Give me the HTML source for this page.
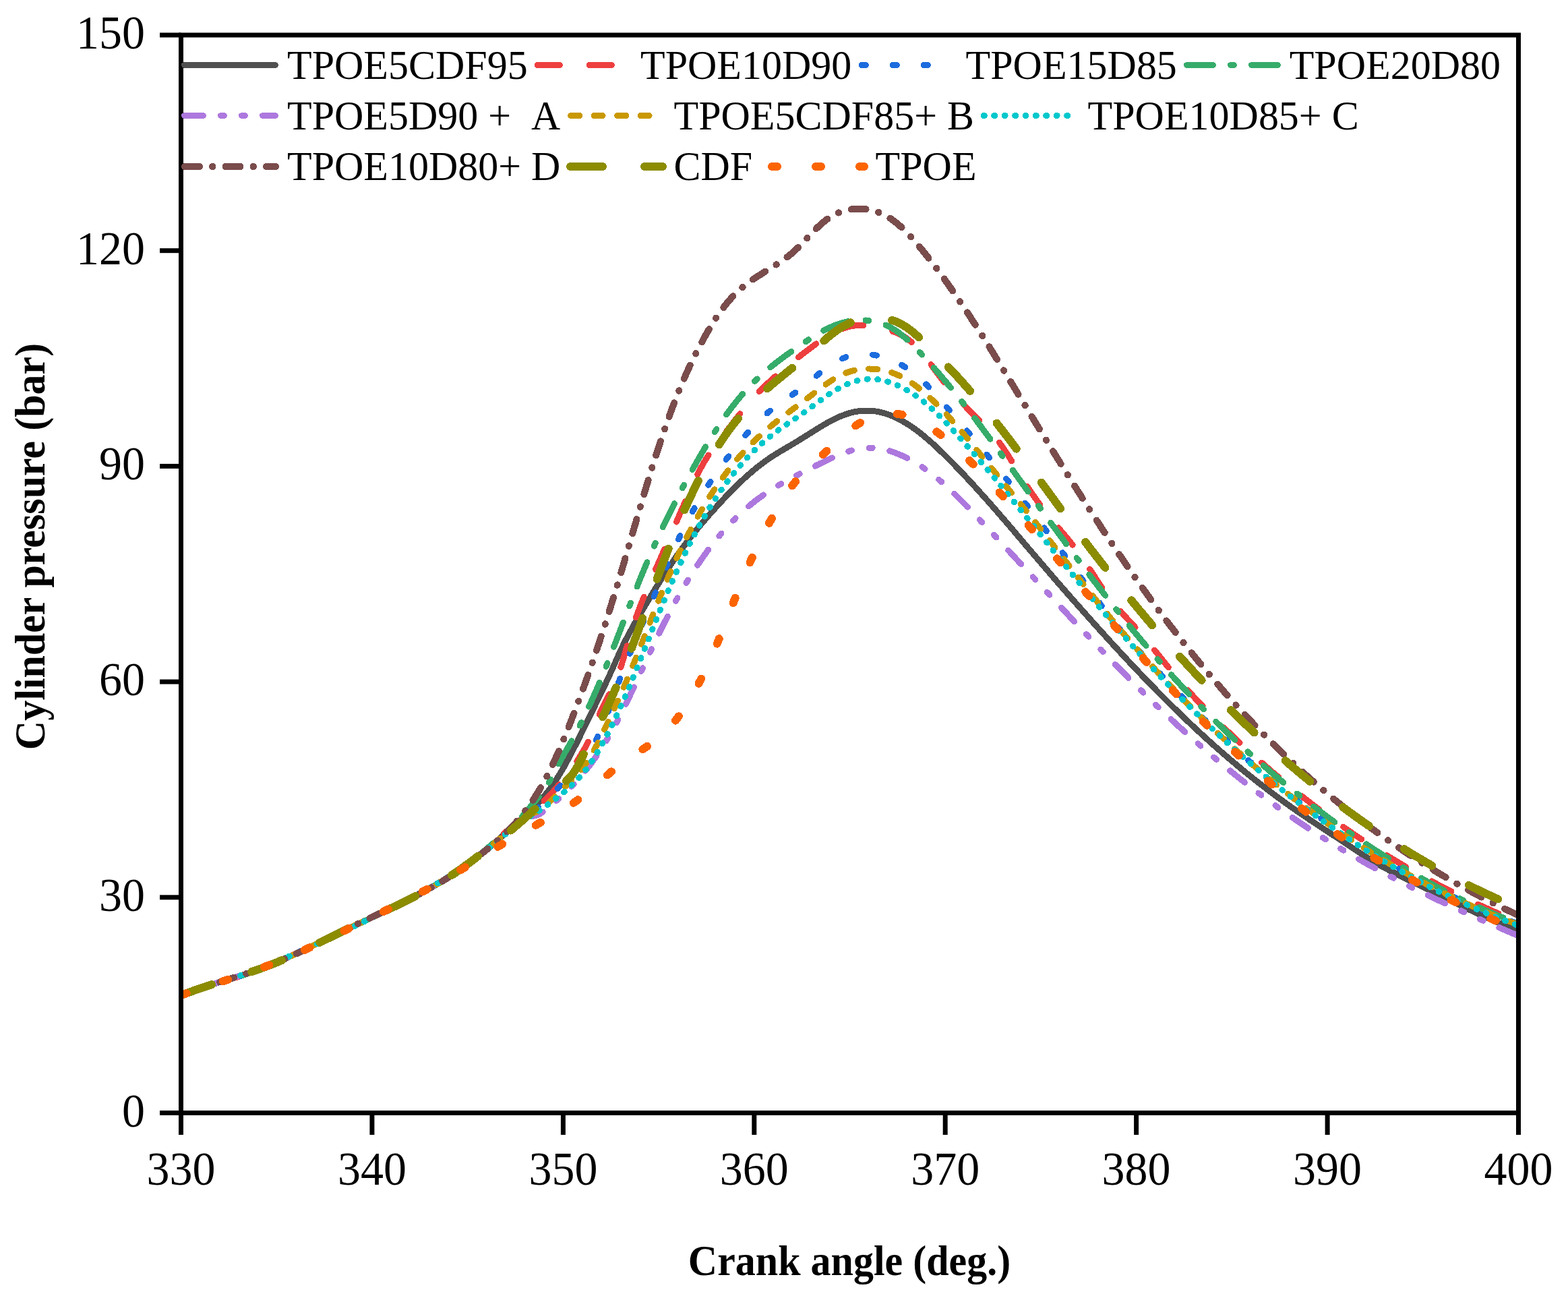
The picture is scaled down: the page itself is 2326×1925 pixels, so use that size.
<!DOCTYPE html>
<html><head><meta charset="utf-8"><title>Cylinder pressure vs crank angle</title>
<style>html,body{margin:0;padding:0;background:#fff;}body{width:2326px;height:1925px;overflow:hidden;}svg{display:block;}</style>
</head><body>
<svg width="2326" height="1925" viewBox="0 0 2326 1925">
<rect width="100%" height="100%" fill="#fff"/>
<defs><clipPath id="pc"><rect x="269" y="52" width="1983" height="1598"/></clipPath></defs>
<g clip-path="url(#pc)" fill="none" stroke-linecap="round" stroke-linejoin="round" shape-rendering="crispEdges">
<path d="M269.0 1476.2C270.5 1475.5 275.1 1473.7 278.2 1472.5C281.3 1471.3 284.5 1470.1 287.6 1469.0C290.8 1467.9 293.9 1466.8 297.1 1465.7C300.3 1464.6 303.4 1463.6 306.6 1462.5C309.8 1461.5 313.0 1460.5 316.2 1459.5C319.4 1458.5 322.6 1457.5 325.7 1456.5C328.9 1455.5 332.1 1454.5 335.3 1453.5C338.5 1452.5 341.7 1451.6 344.9 1450.6C348.1 1449.6 351.3 1448.6 354.5 1447.6C357.7 1446.6 360.8 1445.5 364.0 1444.5C367.2 1443.5 370.4 1442.4 373.5 1441.3C376.7 1440.3 379.8 1439.2 383.0 1438.0C386.1 1436.9 389.3 1435.8 392.4 1434.6C395.5 1433.4 398.6 1432.1 401.7 1430.9C404.8 1429.6 407.9 1428.4 411.0 1427.1C414.1 1425.8 417.1 1424.4 420.2 1423.1C423.2 1421.7 426.3 1420.3 429.3 1419.0C432.4 1417.6 435.4 1416.2 438.4 1414.7C441.5 1413.3 444.5 1411.9 447.5 1410.4C450.5 1409.0 453.5 1407.6 456.5 1406.1C459.5 1404.6 462.5 1403.2 465.5 1401.7C468.5 1400.2 471.5 1398.8 474.5 1397.3C477.5 1395.8 480.6 1394.4 483.6 1392.9C486.6 1391.5 489.6 1390.0 492.6 1388.6C495.6 1387.1 498.6 1385.7 501.6 1384.2C504.7 1382.8 507.7 1381.4 510.7 1380.0C513.7 1378.5 516.7 1377.1 519.8 1375.7C522.8 1374.3 525.8 1372.9 528.9 1371.4C531.9 1370.0 534.9 1368.6 537.9 1367.2C541.0 1365.8 544.0 1364.3 547.0 1362.9C550.0 1361.5 553.1 1360.1 556.1 1358.6C559.1 1357.2 562.1 1355.8 565.1 1354.3C568.1 1352.9 571.2 1351.4 574.2 1350.0C577.2 1348.5 580.2 1347.1 583.2 1345.6C586.2 1344.1 589.2 1342.7 592.2 1341.2C595.2 1339.7 598.1 1338.2 601.1 1336.7C604.1 1335.1 607.1 1333.6 610.0 1332.1C613.0 1330.5 616.0 1329.0 618.9 1327.4C621.9 1325.8 624.8 1324.2 627.7 1322.6C630.7 1321.0 633.6 1319.4 636.5 1317.8C639.4 1316.1 642.3 1314.5 645.2 1312.8C648.1 1311.1 651.0 1309.4 653.8 1307.7C656.7 1306.0 659.6 1304.3 662.4 1302.5C665.2 1300.7 668.1 1298.9 670.9 1297.1C673.7 1295.3 676.5 1293.5 679.3 1291.6C682.0 1289.8 684.8 1287.9 687.5 1286.0C690.3 1284.1 693.0 1282.1 695.7 1280.2C698.4 1278.2 701.1 1276.2 703.8 1274.2C706.4 1272.2 709.1 1270.1 711.7 1268.1C714.3 1266.0 716.9 1263.9 719.5 1261.8C722.1 1259.7 724.7 1257.6 727.3 1255.4C729.8 1253.3 732.4 1251.1 734.9 1248.9C737.4 1246.7 739.9 1244.6 742.5 1242.3C745.0 1240.1 747.5 1237.9 750.0 1235.7C752.5 1233.5 754.9 1231.2 757.4 1229.0C759.9 1226.7 762.4 1224.5 764.8 1222.2C767.3 1220.0 769.8 1217.7 772.2 1215.5C774.7 1213.2 777.1 1210.9 779.6 1208.7C782.0 1206.4 784.5 1204.1 786.9 1201.8C789.3 1199.5 791.8 1197.2 794.1 1194.8C796.5 1192.5 798.8 1190.1 801.1 1187.6C803.3 1185.2 805.5 1182.6 807.7 1180.1C809.8 1177.5 811.9 1174.9 813.9 1172.2C815.9 1169.6 817.9 1166.9 819.8 1164.1C821.7 1161.4 823.6 1158.6 825.4 1155.8C827.2 1153.0 829.0 1150.2 830.7 1147.3C832.5 1144.5 834.2 1141.6 835.8 1138.7C837.5 1135.8 839.1 1132.9 840.7 1129.9C842.3 1127.0 843.9 1124.1 845.5 1121.1C847.0 1118.2 848.6 1115.2 850.1 1112.2C851.6 1109.2 853.1 1106.3 854.7 1103.3C856.2 1100.3 857.6 1097.3 859.1 1094.3C860.6 1091.3 862.1 1088.3 863.5 1085.3C865.0 1082.3 866.5 1079.3 867.9 1076.3C869.4 1073.3 870.8 1070.3 872.3 1067.3C873.8 1064.3 875.2 1061.3 876.7 1058.3C878.2 1055.3 879.6 1052.3 881.1 1049.3C882.6 1046.3 884.1 1043.3 885.5 1040.3C887.0 1037.3 888.5 1034.3 890.0 1031.3C891.4 1028.3 892.9 1025.3 894.3 1022.2C895.8 1019.2 897.2 1016.2 898.7 1013.2C900.1 1010.2 901.5 1007.2 902.9 1004.1C904.3 1001.1 905.7 998.0 907.1 995.0C908.4 991.9 909.8 988.9 911.1 985.8C912.5 982.8 913.8 979.7 915.2 976.7C916.6 973.6 917.9 970.6 919.3 967.5C920.7 964.5 922.1 961.5 923.6 958.4C925.0 955.4 926.5 952.4 928.0 949.5C929.6 946.5 931.1 943.5 932.7 940.6C934.3 937.6 935.9 934.7 937.5 931.8C939.1 928.8 940.7 925.9 942.4 923.0C944.1 920.1 945.7 917.2 947.4 914.4C949.1 911.5 950.8 908.6 952.5 905.7C954.2 902.8 955.9 900.0 957.6 897.1C959.4 894.2 961.1 891.4 962.8 888.5C964.5 885.7 966.3 882.8 968.0 879.9C969.7 877.1 971.5 874.2 973.2 871.4C975.0 868.6 976.8 865.7 978.5 862.9C980.3 860.1 982.1 857.2 983.9 854.4C985.7 851.6 987.5 848.8 989.4 846.0C991.2 843.2 993.0 840.4 994.9 837.6C996.8 834.9 998.6 832.1 1000.5 829.3C1002.4 826.6 1004.3 823.8 1006.3 821.1C1008.2 818.4 1010.1 815.7 1012.1 813.0C1014.1 810.3 1016.1 807.6 1018.1 804.9C1020.1 802.3 1022.1 799.6 1024.2 797.0C1026.2 794.3 1028.3 791.7 1030.4 789.1C1032.5 786.5 1034.6 783.9 1036.8 781.4C1038.9 778.8 1041.1 776.3 1043.3 773.7C1045.4 771.2 1047.6 768.7 1049.8 766.2C1052.0 763.6 1054.3 761.1 1056.5 758.6C1058.7 756.2 1060.9 753.7 1063.2 751.2C1065.4 748.7 1067.7 746.2 1070.0 743.8C1072.2 741.3 1074.5 738.9 1076.8 736.5C1079.1 734.0 1081.4 731.6 1083.8 729.2C1086.1 726.9 1088.4 724.5 1090.8 722.1C1093.2 719.8 1095.6 717.5 1098.0 715.2C1100.4 712.9 1102.9 710.6 1105.4 708.3C1107.8 706.1 1110.3 703.9 1112.9 701.7C1115.4 699.5 1118.0 697.3 1120.5 695.2C1123.1 693.1 1125.8 691.1 1128.4 689.0C1131.1 687.0 1133.8 685.0 1136.5 683.1C1139.2 681.1 1142.0 679.2 1144.7 677.4C1147.5 675.6 1150.4 673.8 1153.2 672.0C1156.1 670.3 1158.9 668.6 1161.8 666.9C1164.7 665.2 1167.6 663.5 1170.5 661.8C1173.3 660.1 1176.2 658.4 1179.1 656.7C1181.9 655.0 1184.8 653.2 1187.6 651.4C1190.5 649.7 1193.3 647.9 1196.1 646.1C1199.0 644.3 1201.8 642.5 1204.6 640.8C1207.4 639.0 1210.3 637.2 1213.1 635.5C1216.0 633.7 1218.8 632.0 1221.7 630.3C1224.6 628.6 1227.5 626.9 1230.4 625.4C1233.4 623.8 1236.3 622.2 1239.3 620.8C1242.4 619.3 1245.4 617.9 1248.5 616.7C1251.6 615.5 1254.8 614.3 1257.9 613.3C1261.1 612.4 1264.4 611.5 1267.7 610.8C1270.9 610.2 1274.2 609.7 1277.6 609.4C1280.9 609.1 1284.2 609.0 1287.6 609.1C1290.9 609.1 1294.3 609.4 1297.6 609.8C1300.9 610.2 1304.2 610.9 1307.4 611.7C1310.7 612.5 1313.9 613.4 1317.0 614.5C1320.2 615.6 1323.3 616.9 1326.3 618.2C1329.4 619.6 1332.4 621.0 1335.4 622.6C1338.3 624.2 1341.2 625.8 1344.1 627.6C1346.9 629.3 1349.7 631.1 1352.5 633.0C1355.2 634.9 1358.0 636.9 1360.6 638.9C1363.3 640.9 1365.9 642.9 1368.5 645.0C1371.1 647.1 1373.7 649.3 1376.2 651.5C1378.8 653.6 1381.3 655.9 1383.7 658.1C1386.2 660.4 1388.6 662.6 1391.1 664.9C1393.5 667.2 1395.9 669.6 1398.3 671.9C1400.7 674.2 1403.0 676.6 1405.4 678.9C1407.8 681.3 1410.1 683.7 1412.5 686.1C1414.8 688.4 1417.2 690.8 1419.5 693.2C1421.8 695.6 1424.1 698.1 1426.4 700.5C1428.7 702.9 1431.0 705.3 1433.3 707.8C1435.6 710.2 1437.9 712.6 1440.1 715.1C1442.4 717.6 1444.7 720.0 1446.9 722.5C1449.2 725.0 1451.4 727.4 1453.6 729.9C1455.9 732.4 1458.1 734.9 1460.3 737.4C1462.6 739.9 1464.8 742.4 1467.0 744.9C1469.2 747.4 1471.4 749.9 1473.6 752.4C1475.8 754.9 1478.0 757.4 1480.2 760.0C1482.4 762.5 1484.6 765.0 1486.8 767.6C1488.9 770.1 1491.1 772.6 1493.3 775.1C1495.5 777.7 1497.7 780.2 1499.8 782.8C1502.0 785.3 1504.2 787.8 1506.3 790.4C1508.5 792.9 1510.7 795.5 1512.8 798.0C1515.0 800.6 1517.2 803.1 1519.3 805.7C1521.5 808.2 1523.7 810.8 1525.8 813.3C1528.0 815.8 1530.2 818.4 1532.3 820.9C1534.5 823.5 1536.7 826.0 1538.8 828.6C1541.0 831.1 1543.2 833.6 1545.3 836.2C1547.5 838.7 1549.7 841.3 1551.9 843.8C1554.0 846.3 1556.2 848.9 1558.4 851.4C1560.6 853.9 1562.8 856.5 1565.0 859.0C1567.1 861.5 1569.3 864.0 1571.5 866.6C1573.7 869.1 1575.9 871.6 1578.1 874.1C1580.3 876.6 1582.5 879.2 1584.7 881.7C1586.9 884.2 1589.1 886.7 1591.3 889.2C1593.5 891.7 1595.7 894.2 1598.0 896.7C1600.2 899.2 1602.4 901.7 1604.6 904.2C1606.8 906.7 1609.0 909.2 1611.3 911.7C1613.5 914.2 1615.7 916.7 1617.9 919.2C1620.2 921.7 1622.4 924.2 1624.6 926.7C1626.9 929.2 1629.1 931.6 1631.3 934.1C1633.6 936.6 1635.8 939.1 1638.1 941.5C1640.3 944.0 1642.6 946.5 1644.8 949.0C1647.1 951.4 1649.3 953.9 1651.6 956.4C1653.9 958.8 1656.1 961.3 1658.4 963.7C1660.7 966.2 1662.9 968.6 1665.2 971.1C1667.5 973.5 1669.8 976.0 1672.0 978.4C1674.3 980.9 1676.6 983.3 1678.9 985.7C1681.2 988.2 1683.5 990.6 1685.8 993.0C1688.1 995.4 1690.4 997.9 1692.7 1000.3C1695.0 1002.7 1697.3 1005.1 1699.6 1007.5C1701.9 1009.9 1704.3 1012.3 1706.6 1014.7C1708.9 1017.1 1711.3 1019.5 1713.6 1021.9C1715.9 1024.3 1718.3 1026.7 1720.6 1029.1C1723.0 1031.4 1725.3 1033.8 1727.7 1036.2C1730.1 1038.5 1732.4 1040.9 1734.8 1043.2C1737.2 1045.6 1739.5 1048.0 1741.9 1050.3C1744.3 1052.6 1746.7 1055.0 1749.1 1057.3C1751.5 1059.6 1753.9 1061.9 1756.3 1064.3C1758.7 1066.6 1761.1 1068.9 1763.6 1071.2C1766.0 1073.5 1768.4 1075.8 1770.9 1078.1C1773.3 1080.4 1775.7 1082.6 1778.2 1084.9C1780.6 1087.2 1783.1 1089.4 1785.6 1091.7C1788.0 1094.0 1790.5 1096.2 1793.0 1098.4C1795.5 1100.7 1797.9 1102.9 1800.4 1105.1C1802.9 1107.4 1805.4 1109.6 1808.0 1111.8C1810.5 1114.0 1813.0 1116.2 1815.5 1118.4C1818.0 1120.6 1820.6 1122.7 1823.1 1124.9C1825.7 1127.1 1828.2 1129.2 1830.8 1131.4C1833.3 1133.5 1835.9 1135.7 1838.5 1137.8C1841.0 1139.9 1843.6 1142.1 1846.2 1144.2C1848.8 1146.3 1851.4 1148.4 1854.0 1150.5C1856.6 1152.6 1859.2 1154.7 1861.8 1156.7C1864.5 1158.8 1867.1 1160.9 1869.7 1162.9C1872.4 1165.0 1875.0 1167.0 1877.7 1169.0C1880.3 1171.1 1883.0 1173.1 1885.6 1175.1C1888.3 1177.1 1891.0 1179.1 1893.7 1181.1C1896.4 1183.1 1899.1 1185.1 1901.8 1187.0C1904.5 1189.0 1907.2 1191.0 1909.9 1192.9C1912.6 1194.9 1915.3 1196.8 1918.1 1198.7C1920.8 1200.6 1923.6 1202.5 1926.3 1204.4C1929.1 1206.3 1931.8 1208.2 1934.6 1210.1C1937.3 1212.0 1940.1 1213.8 1942.9 1215.7C1945.7 1217.5 1948.5 1219.4 1951.2 1221.2C1954.0 1223.1 1956.8 1224.9 1959.6 1226.8C1962.4 1228.6 1965.2 1230.4 1968.0 1232.2C1970.8 1234.1 1973.6 1235.9 1976.4 1237.7C1979.2 1239.6 1982.0 1241.4 1984.8 1243.2C1987.6 1245.1 1990.4 1246.9 1993.2 1248.7C1995.9 1250.6 1998.7 1252.4 2001.5 1254.3C2004.3 1256.2 2007.1 1258.0 2009.8 1259.9C2012.6 1261.7 2015.4 1263.6 2018.2 1265.4C2021.0 1267.3 2023.8 1269.1 2026.6 1270.9C2029.4 1272.7 2032.2 1274.5 2035.1 1276.2C2037.9 1278.0 2040.8 1279.7 2043.7 1281.3C2046.6 1283.0 2049.5 1284.6 2052.5 1286.2C2055.4 1287.8 2058.4 1289.4 2061.3 1290.9C2064.3 1292.4 2067.3 1293.9 2070.3 1295.4C2073.2 1296.9 2076.2 1298.4 2079.2 1299.9C2082.2 1301.4 2085.2 1302.9 2088.2 1304.4C2091.2 1305.8 2094.2 1307.3 2097.2 1308.8C2100.2 1310.3 2103.2 1311.8 2106.2 1313.3C2109.2 1314.8 2112.2 1316.3 2115.2 1317.7C2118.2 1319.2 2121.1 1320.7 2124.1 1322.2C2127.1 1323.7 2130.1 1325.2 2133.1 1326.6C2136.1 1328.1 2139.1 1329.6 2142.1 1331.1C2145.1 1332.5 2148.1 1334.0 2151.1 1335.5C2154.1 1336.9 2157.1 1338.4 2160.2 1339.8C2163.2 1341.3 2166.2 1342.7 2169.2 1344.2C2172.2 1345.6 2175.2 1347.0 2178.3 1348.4C2181.3 1349.9 2184.3 1351.3 2187.4 1352.7C2190.4 1354.1 2193.4 1355.5 2196.5 1356.8C2199.5 1358.2 2202.6 1359.6 2205.6 1360.9C2208.7 1362.3 2211.7 1363.6 2214.8 1365.0C2217.9 1366.3 2221.0 1367.6 2224.0 1368.9C2227.1 1370.2 2230.2 1371.5 2233.3 1372.8C2236.4 1374.0 2239.5 1375.3 2242.6 1376.5C2245.7 1377.7 2250.4 1379.5 2251.9 1380.2" stroke="#505050" stroke-width="9"/>
<path d="M269.0 1476.5C270.5 1475.8 275.0 1473.5 278.0 1472.2C281.1 1470.8 284.2 1469.6 287.3 1468.4C290.4 1467.2 293.6 1466.1 296.8 1465.1C300.0 1464.0 303.1 1463.1 306.4 1462.1C309.6 1461.2 312.8 1460.3 316.0 1459.4C319.2 1458.5 322.4 1457.6 325.7 1456.7C328.9 1455.8 332.1 1455.0 335.3 1454.0C338.5 1453.1 341.7 1452.2 344.9 1451.2C348.1 1450.2 351.3 1449.2 354.5 1448.2C357.7 1447.2 360.8 1446.1 364.0 1445.0C367.1 1443.9 370.3 1442.8 373.4 1441.6C376.6 1440.5 379.7 1439.3 382.8 1438.1C385.9 1436.9 389.0 1435.6 392.1 1434.4C395.2 1433.2 398.3 1431.9 401.4 1430.6C404.5 1429.3 407.6 1428.0 410.7 1426.7C413.7 1425.4 416.8 1424.1 419.9 1422.7C422.9 1421.4 426.0 1420.0 429.0 1418.7C432.1 1417.3 435.1 1415.9 438.2 1414.6C441.2 1413.2 444.2 1411.8 447.3 1410.4C450.3 1409.0 453.4 1407.6 456.4 1406.2C459.4 1404.8 462.4 1403.4 465.5 1402.0C468.5 1400.5 471.5 1399.1 474.5 1397.7C477.6 1396.3 480.6 1394.8 483.6 1393.4C486.6 1391.9 489.6 1390.5 492.6 1389.1C495.6 1387.6 498.7 1386.2 501.7 1384.7C504.7 1383.3 507.7 1381.8 510.7 1380.3C513.7 1378.9 516.7 1377.4 519.7 1376.0C522.7 1374.5 525.7 1373.0 528.7 1371.6C531.7 1370.1 534.7 1368.6 537.7 1367.2C540.7 1365.7 543.7 1364.2 546.7 1362.8C549.7 1361.3 552.7 1359.8 555.7 1358.4C558.7 1356.9 561.7 1355.4 564.7 1354.0C567.7 1352.5 570.8 1351.0 573.8 1349.6C576.8 1348.1 579.8 1346.7 582.8 1345.2C585.8 1343.7 588.8 1342.3 591.8 1340.8C594.8 1339.3 597.8 1337.9 600.8 1336.4C603.8 1334.9 606.8 1333.4 609.8 1331.9C612.7 1330.4 615.7 1328.9 618.7 1327.4C621.7 1325.9 624.6 1324.3 627.6 1322.8C630.6 1321.2 633.5 1319.7 636.5 1318.1C639.4 1316.5 642.3 1314.9 645.2 1313.2C648.1 1311.6 651.1 1310.0 653.9 1308.3C656.8 1306.6 659.7 1304.9 662.6 1303.1C665.4 1301.4 668.2 1299.6 671.1 1297.8C673.9 1296.0 676.7 1294.2 679.4 1292.3C682.2 1290.5 685.0 1288.6 687.7 1286.6C690.4 1284.7 693.1 1282.7 695.8 1280.7C698.5 1278.7 701.1 1276.7 703.7 1274.6C706.3 1272.5 708.9 1270.4 711.5 1268.2C714.0 1266.1 716.5 1263.9 719.1 1261.7C721.6 1259.5 724.1 1257.3 726.6 1255.1C729.1 1252.9 731.6 1250.6 734.1 1248.4C736.5 1246.2 739.0 1243.9 741.5 1241.7C744.0 1239.5 746.5 1237.2 749.0 1235.0C751.5 1232.8 754.0 1230.6 756.5 1228.4C759.0 1226.2 761.6 1224.0 764.1 1221.9C766.7 1219.8 769.3 1217.6 771.9 1215.6C774.5 1213.5 777.2 1211.5 779.9 1209.5C782.6 1207.5 785.3 1205.6 788.0 1203.6C790.7 1201.6 793.4 1199.6 796.0 1197.5C798.6 1195.5 801.2 1193.3 803.7 1191.1C806.2 1188.9 808.6 1186.6 811.0 1184.2C813.3 1181.9 815.6 1179.4 817.9 1177.0C820.1 1174.5 822.3 1172.0 824.5 1169.5C826.7 1166.9 828.8 1164.4 831.0 1161.8C833.1 1159.2 835.2 1156.6 837.3 1154.0C839.3 1151.4 841.4 1148.7 843.4 1146.1C845.4 1143.4 847.4 1140.7 849.4 1138.0C851.3 1135.3 853.2 1132.6 855.1 1129.8C857.0 1127.0 858.8 1124.2 860.6 1121.4C862.3 1118.6 864.1 1115.7 865.7 1112.8C867.4 1109.9 869.0 1107.0 870.5 1104.0C872.1 1101.0 873.5 1098.0 874.9 1095.0C876.3 1091.9 877.6 1088.9 878.9 1085.8C880.1 1082.7 881.2 1079.5 882.4 1076.4C883.6 1073.3 884.7 1070.1 886.0 1067.0C887.2 1063.9 888.5 1060.9 889.9 1057.8C891.3 1054.8 892.7 1051.7 894.2 1048.7C895.6 1045.7 897.1 1042.7 898.6 1039.7C900.1 1036.8 901.6 1033.8 903.1 1030.8C904.6 1027.8 906.1 1024.8 907.6 1021.8C909.0 1018.8 910.5 1015.8 911.8 1012.7C913.2 1009.7 914.5 1006.6 915.8 1003.5C917.0 1000.4 918.2 997.3 919.3 994.1C920.4 991.0 921.4 987.8 922.4 984.6C923.4 981.4 924.3 978.2 925.3 975.0C926.2 971.8 927.1 968.6 928.0 965.4C928.9 962.1 929.8 958.9 930.7 955.7C931.6 952.5 932.5 949.3 933.5 946.1C934.4 942.9 935.4 939.7 936.4 936.5C937.4 933.3 938.5 930.1 939.5 927.0C940.6 923.8 941.7 920.6 942.8 917.5C943.9 914.3 945.1 911.2 946.2 908.1C947.4 904.9 948.6 901.8 949.8 898.7C951.0 895.6 952.2 892.5 953.5 889.4C954.7 886.3 956.0 883.2 957.3 880.1C958.5 877.0 959.8 873.9 961.1 870.8C962.4 867.8 963.7 864.7 965.0 861.6C966.4 858.5 967.7 855.5 969.0 852.4C970.4 849.3 971.7 846.3 973.1 843.2C974.4 840.2 975.8 837.1 977.1 834.1C978.5 831.0 979.8 828.0 981.2 824.9C982.5 821.8 983.9 818.8 985.2 815.7C986.6 812.7 987.9 809.6 989.3 806.6C990.6 803.5 992.0 800.4 993.3 797.4C994.6 794.3 996.0 791.3 997.3 788.2C998.6 785.1 1000.0 782.1 1001.3 779.0C1002.6 775.9 1003.9 772.9 1005.3 769.8C1006.6 766.7 1007.9 763.6 1009.2 760.6C1010.5 757.5 1011.9 754.4 1013.2 751.4C1014.5 748.3 1015.9 745.2 1017.2 742.2C1018.5 739.1 1019.8 736.0 1021.2 733.0C1022.5 729.9 1023.9 726.9 1025.2 723.8C1026.6 720.8 1028.0 717.7 1029.4 714.7C1030.8 711.7 1032.2 708.7 1033.7 705.7C1035.2 702.7 1036.7 699.7 1038.3 696.7C1039.8 693.8 1041.4 690.8 1043.1 687.9C1044.7 685.0 1046.5 682.2 1048.2 679.3C1050.0 676.5 1051.9 673.7 1053.7 671.0C1055.6 668.2 1057.6 665.5 1059.6 662.8C1061.5 660.1 1063.6 657.4 1065.6 654.8C1067.6 652.1 1069.7 649.5 1071.8 646.9C1073.8 644.3 1075.9 641.6 1078.0 639.0C1080.1 636.4 1082.1 633.8 1084.2 631.2C1086.3 628.5 1088.3 625.9 1090.3 623.2C1092.4 620.6 1094.4 617.9 1096.4 615.3C1098.4 612.6 1100.5 610.0 1102.6 607.3C1104.7 604.7 1106.8 602.2 1109.0 599.6C1111.1 597.1 1113.3 594.6 1115.6 592.1C1117.8 589.6 1120.1 587.2 1122.4 584.7C1124.7 582.3 1127.0 579.9 1129.4 577.6C1131.8 575.2 1134.2 572.9 1136.6 570.6C1139.0 568.3 1141.4 566.0 1143.9 563.8C1146.4 561.5 1148.9 559.3 1151.4 557.1C1153.9 554.9 1156.4 552.7 1159.0 550.5C1161.5 548.3 1164.1 546.2 1166.6 544.1C1169.2 542.0 1171.8 539.8 1174.4 537.7C1177.0 535.7 1179.6 533.6 1182.3 531.5C1184.9 529.4 1187.5 527.4 1190.2 525.3C1192.8 523.3 1195.5 521.3 1198.1 519.2C1200.8 517.2 1203.4 515.2 1206.1 513.2C1208.8 511.2 1211.5 509.2 1214.2 507.3C1216.9 505.3 1219.7 503.4 1222.5 501.6C1225.3 499.8 1228.1 498.0 1231.0 496.3C1233.9 494.6 1236.8 493.0 1239.8 491.6C1242.8 490.1 1245.9 488.8 1249.0 487.6C1252.2 486.5 1255.4 485.5 1258.6 484.7C1261.8 483.9 1265.2 483.3 1268.5 482.9C1271.8 482.6 1275.1 482.4 1278.5 482.4C1281.8 482.4 1285.2 482.6 1288.5 482.9C1291.8 483.3 1295.1 483.8 1298.4 484.3C1301.7 484.9 1305.0 485.7 1308.2 486.5C1311.4 487.3 1314.7 488.2 1317.8 489.2C1321.0 490.2 1324.2 491.3 1327.3 492.5C1330.4 493.7 1333.5 495.1 1336.4 496.6C1339.4 498.2 1342.3 499.9 1345.0 501.8C1347.7 503.7 1350.4 505.8 1352.9 508.0C1355.4 510.2 1357.8 512.5 1360.1 514.9C1362.5 517.3 1364.7 519.8 1366.8 522.4C1369.0 524.9 1371.1 527.5 1373.2 530.2C1375.2 532.8 1377.2 535.5 1379.2 538.1C1381.2 540.8 1383.1 543.5 1385.1 546.2C1387.1 548.9 1389.1 551.6 1391.0 554.3C1393.0 557.0 1395.1 559.7 1397.1 562.3C1399.2 564.9 1401.2 567.6 1403.3 570.2C1405.4 572.8 1407.6 575.3 1409.7 577.9C1411.9 580.4 1414.1 583.0 1416.3 585.5C1418.5 588.0 1420.7 590.5 1422.9 593.0C1425.2 595.4 1427.5 597.9 1429.8 600.3C1432.1 602.7 1434.4 605.1 1436.7 607.5C1439.1 609.9 1441.4 612.3 1443.8 614.6C1446.1 617.0 1448.5 619.3 1450.9 621.7C1453.3 624.1 1455.6 626.4 1458.0 628.8C1460.3 631.2 1462.7 633.6 1464.9 636.0C1467.2 638.4 1469.5 640.9 1471.7 643.4C1473.9 645.9 1476.1 648.4 1478.2 651.0C1480.3 653.6 1482.4 656.3 1484.4 658.9C1486.3 661.6 1488.2 664.4 1490.1 667.1C1492.0 669.9 1493.8 672.7 1495.6 675.5C1497.4 678.4 1499.1 681.2 1500.9 684.1C1502.6 686.9 1504.3 689.8 1506.1 692.6C1507.8 695.5 1509.5 698.4 1511.2 701.2C1512.9 704.1 1514.7 707.0 1516.4 709.8C1518.2 712.7 1519.9 715.5 1521.8 718.3C1523.6 721.1 1525.4 723.9 1527.3 726.7C1529.2 729.4 1531.1 732.2 1533.0 734.9C1534.9 737.6 1536.8 740.4 1538.8 743.1C1540.8 745.8 1542.8 748.4 1544.8 751.1C1546.8 753.8 1548.8 756.4 1550.9 759.0C1553.0 761.7 1555.0 764.3 1557.1 766.9C1559.2 769.5 1561.3 772.1 1563.5 774.7C1565.6 777.3 1567.7 779.8 1569.9 782.4C1572.0 785.0 1574.2 787.5 1576.3 790.1C1578.4 792.6 1580.6 795.2 1582.7 797.8C1584.9 800.3 1587.0 802.9 1589.1 805.5C1591.2 808.1 1593.2 810.7 1595.3 813.4C1597.3 816.0 1599.3 818.7 1601.3 821.4C1603.3 824.1 1605.2 826.8 1607.1 829.6C1609.0 832.3 1610.8 835.1 1612.7 837.9C1614.5 840.7 1616.4 843.5 1618.2 846.3C1620.0 849.1 1621.8 851.9 1623.6 854.7C1625.4 857.5 1627.2 860.3 1629.1 863.1C1630.9 865.9 1632.8 868.7 1634.6 871.5C1636.5 874.2 1638.4 877.0 1640.4 879.7C1642.3 882.4 1644.3 885.1 1646.4 887.7C1648.4 890.3 1650.5 892.9 1652.7 895.5C1654.8 898.1 1657.0 900.6 1659.2 903.1C1661.4 905.7 1663.6 908.1 1665.9 910.6C1668.1 913.1 1670.4 915.6 1672.6 918.0C1674.9 920.5 1677.2 922.9 1679.4 925.4C1681.7 927.9 1683.9 930.3 1686.2 932.8C1688.4 935.3 1690.6 937.8 1692.8 940.3C1695.0 942.8 1697.2 945.3 1699.4 947.9C1701.5 950.4 1703.7 953.0 1705.8 955.6C1707.9 958.2 1710.0 960.8 1712.1 963.4C1714.2 966.0 1716.3 968.6 1718.4 971.2C1720.5 973.8 1722.5 976.4 1724.6 979.0C1726.7 981.6 1728.8 984.2 1730.9 986.8C1733.0 989.4 1735.1 992.0 1737.2 994.6C1739.3 997.2 1741.5 999.8 1743.6 1002.4C1745.7 1004.9 1747.9 1007.5 1750.1 1010.0C1752.3 1012.5 1754.5 1015.1 1756.7 1017.6C1758.9 1020.1 1761.1 1022.6 1763.3 1025.1C1765.6 1027.5 1767.8 1030.0 1770.1 1032.5C1772.3 1034.9 1774.6 1037.4 1776.9 1039.8C1779.2 1042.3 1781.5 1044.7 1783.8 1047.1C1786.1 1049.5 1788.4 1051.9 1790.7 1054.3C1793.0 1056.7 1795.4 1059.1 1797.7 1061.5C1800.1 1063.9 1802.4 1066.2 1804.8 1068.6C1807.2 1070.9 1809.6 1073.3 1812.0 1075.6C1814.3 1078.0 1816.7 1080.3 1819.1 1082.6C1821.5 1084.9 1824.0 1087.2 1826.4 1089.5C1828.8 1091.8 1831.2 1094.1 1833.7 1096.4C1836.1 1098.7 1838.5 1101.0 1841.0 1103.3C1843.4 1105.6 1845.9 1107.8 1848.4 1110.1C1850.8 1112.3 1853.3 1114.6 1855.8 1116.8C1858.2 1119.1 1860.7 1121.3 1863.2 1123.6C1865.7 1125.8 1868.2 1128.0 1870.7 1130.2C1873.2 1132.4 1875.7 1134.6 1878.2 1136.8C1880.7 1139.0 1883.2 1141.2 1885.8 1143.4C1888.3 1145.6 1890.9 1147.8 1893.4 1149.9C1895.9 1152.1 1898.5 1154.2 1901.1 1156.4C1903.6 1158.5 1906.2 1160.7 1908.8 1162.8C1911.4 1164.9 1914.0 1167.0 1916.5 1169.1C1919.1 1171.2 1921.7 1173.3 1924.4 1175.4C1927.0 1177.5 1929.6 1179.6 1932.2 1181.6C1934.8 1183.7 1937.5 1185.7 1940.1 1187.8C1942.8 1189.8 1945.4 1191.9 1948.1 1193.9C1950.7 1195.9 1953.4 1197.9 1956.1 1199.9C1958.7 1201.9 1961.4 1203.9 1964.1 1205.9C1966.8 1207.9 1969.5 1209.9 1972.2 1211.8C1974.9 1213.8 1977.6 1215.8 1980.3 1217.7C1983.1 1219.6 1985.8 1221.6 1988.5 1223.5C1991.3 1225.4 1994.0 1227.3 1996.7 1229.2C1999.5 1231.1 2002.2 1233.0 2005.0 1234.9C2007.8 1236.8 2010.5 1238.6 2013.3 1240.5C2016.1 1242.4 2018.9 1244.2 2021.7 1246.1C2024.5 1247.9 2027.3 1249.7 2030.1 1251.5C2032.9 1253.4 2035.7 1255.2 2038.5 1257.0C2041.3 1258.8 2044.1 1260.5 2047.0 1262.3C2049.8 1264.1 2052.6 1265.8 2055.5 1267.6C2058.3 1269.4 2061.2 1271.1 2064.0 1272.8C2066.9 1274.6 2069.8 1276.3 2072.6 1278.0C2075.5 1279.7 2078.4 1281.4 2081.3 1283.1C2084.1 1284.8 2087.0 1286.4 2089.9 1288.1C2092.8 1289.8 2095.7 1291.4 2098.6 1293.1C2101.6 1294.7 2104.5 1296.3 2107.4 1298.0C2110.3 1299.6 2113.2 1301.2 2116.2 1302.8C2119.1 1304.4 2122.1 1306.0 2125.0 1307.6C2127.9 1309.1 2130.9 1310.7 2133.9 1312.3C2136.8 1313.8 2139.8 1315.3 2142.7 1316.9C2145.7 1318.4 2148.7 1319.9 2151.7 1321.4C2154.7 1322.9 2157.6 1324.4 2160.6 1325.9C2163.6 1327.4 2166.6 1328.9 2169.6 1330.3C2172.6 1331.8 2175.6 1333.3 2178.7 1334.7C2181.7 1336.1 2184.7 1337.6 2187.7 1339.0C2190.8 1340.4 2193.8 1341.8 2196.8 1343.2C2199.9 1344.6 2202.9 1346.0 2206.0 1347.3C2209.0 1348.7 2212.1 1350.1 2215.1 1351.4C2218.2 1352.8 2221.2 1354.1 2224.3 1355.4C2227.4 1356.7 2230.4 1358.1 2233.5 1359.4C2236.6 1360.7 2239.7 1361.9 2242.8 1363.2C2245.9 1364.5 2250.5 1366.4 2252.0 1367.0" stroke="#ee3f3f" stroke-width="9" stroke-dasharray="33 44"/>
<path d="M269.0 1476.5C270.5 1475.8 275.0 1473.5 278.0 1472.1C281.0 1470.8 284.1 1469.5 287.3 1468.3C290.4 1467.2 293.5 1466.1 296.7 1465.0C299.9 1464.0 303.1 1463.0 306.2 1462.1C309.4 1461.2 312.7 1460.3 315.9 1459.4C319.1 1458.5 322.3 1457.7 325.5 1456.8C328.8 1455.9 332.0 1455.1 335.2 1454.2C338.4 1453.3 341.6 1452.3 344.8 1451.4C348.0 1450.4 351.2 1449.4 354.3 1448.4C357.5 1447.3 360.7 1446.2 363.8 1445.2C367.0 1444.1 370.1 1442.9 373.2 1441.8C376.3 1440.6 379.5 1439.4 382.6 1438.2C385.7 1437.0 388.8 1435.8 391.9 1434.5C395.0 1433.3 398.0 1432.0 401.1 1430.7C404.2 1429.4 407.3 1428.1 410.3 1426.8C413.4 1425.5 416.4 1424.1 419.5 1422.8C422.5 1421.4 425.6 1420.1 428.6 1418.7C431.7 1417.3 434.7 1416.0 437.7 1414.6C440.8 1413.2 443.8 1411.8 446.8 1410.4C449.9 1409.0 452.9 1407.6 455.9 1406.2C458.9 1404.8 462.0 1403.4 465.0 1402.0C468.0 1400.6 471.0 1399.2 474.1 1397.8C477.1 1396.4 480.1 1395.0 483.1 1393.6C486.1 1392.1 489.1 1390.7 492.2 1389.3C495.2 1387.9 498.2 1386.4 501.2 1385.0C504.2 1383.6 507.2 1382.1 510.2 1380.7C513.2 1379.2 516.2 1377.8 519.2 1376.4C522.2 1374.9 525.2 1373.5 528.2 1372.0C531.3 1370.6 534.3 1369.1 537.3 1367.7C540.3 1366.2 543.3 1364.7 546.2 1363.3C549.2 1361.8 552.2 1360.4 555.2 1358.9C558.2 1357.4 561.2 1356.0 564.2 1354.5C567.2 1353.0 570.2 1351.6 573.2 1350.1C576.2 1348.6 579.2 1347.1 582.2 1345.7C585.2 1344.2 588.2 1342.7 591.1 1341.2C594.1 1339.7 597.1 1338.2 600.1 1336.7C603.1 1335.2 606.0 1333.7 609.0 1332.2C612.0 1330.7 614.9 1329.2 617.9 1327.6C620.8 1326.1 623.8 1324.5 626.7 1323.0C629.7 1321.4 632.6 1319.8 635.5 1318.2C638.5 1316.6 641.4 1315.0 644.3 1313.3C647.2 1311.7 650.1 1310.0 652.9 1308.4C655.8 1306.7 658.7 1305.0 661.5 1303.2C664.4 1301.5 667.2 1299.8 670.1 1298.0C672.9 1296.2 675.7 1294.4 678.5 1292.6C681.3 1290.7 684.0 1288.9 686.8 1287.0C689.5 1285.1 692.3 1283.2 695.0 1281.2C697.7 1279.3 700.3 1277.3 703.0 1275.3C705.7 1273.3 708.3 1271.2 710.9 1269.2C713.5 1267.1 716.1 1265.0 718.6 1262.8C721.2 1260.7 723.7 1258.5 726.2 1256.3C728.7 1254.1 731.1 1251.8 733.6 1249.5C736.1 1247.3 738.5 1245.0 740.9 1242.7C743.3 1240.4 745.8 1238.1 748.2 1235.9C750.6 1233.6 753.1 1231.3 755.5 1229.0C758.0 1226.8 760.4 1224.5 762.9 1222.3C765.4 1220.1 768.0 1218.0 770.6 1215.9C773.2 1213.9 775.9 1211.9 778.7 1210.1C781.5 1208.2 784.4 1206.6 787.3 1204.9C790.1 1203.2 793.0 1201.5 795.8 1199.7C798.6 1197.8 801.3 1195.9 803.9 1193.8C806.4 1191.7 808.9 1189.3 811.2 1187.0C813.6 1184.7 815.9 1182.2 818.1 1179.8C820.4 1177.3 822.6 1174.8 824.8 1172.3C827.0 1169.8 829.2 1167.3 831.5 1164.9C833.8 1162.4 836.1 1160.0 838.4 1157.6C840.7 1155.2 843.0 1152.8 845.3 1150.4C847.6 1148.0 850.0 1145.6 852.2 1143.2C854.5 1140.7 856.7 1138.3 858.9 1135.7C861.1 1133.2 863.2 1130.6 865.2 1128.0C867.2 1125.3 869.2 1122.6 871.0 1119.8C872.9 1117.1 874.7 1114.3 876.4 1111.4C878.1 1108.6 879.8 1105.7 881.4 1102.7C883.0 1099.8 884.5 1096.8 886.0 1093.8C887.5 1090.9 888.9 1087.8 890.3 1084.8C891.6 1081.8 893.0 1078.7 894.3 1075.6C895.6 1072.6 896.8 1069.5 898.0 1066.4C899.3 1063.3 900.4 1060.2 901.6 1057.0C902.8 1053.9 903.9 1050.8 905.1 1047.6C906.2 1044.5 907.3 1041.4 908.4 1038.2C909.6 1035.1 910.7 1031.9 911.8 1028.8C912.9 1025.6 914.0 1022.5 915.1 1019.4C916.2 1016.2 917.3 1013.1 918.5 1009.9C919.6 1006.8 920.8 1003.7 921.9 1000.6C923.1 997.4 924.3 994.3 925.5 991.2C926.7 988.1 927.9 985.0 929.2 981.9C930.4 978.8 931.7 975.7 932.9 972.6C934.2 969.6 935.5 966.5 936.8 963.4C938.0 960.3 939.3 957.2 940.6 954.2C941.9 951.1 943.2 948.0 944.5 945.0C945.9 941.9 947.2 938.8 948.5 935.8C949.8 932.7 951.1 929.6 952.4 926.6C953.7 923.5 955.1 920.5 956.4 917.4C957.7 914.3 959.0 911.3 960.3 908.2C961.6 905.1 962.9 902.0 964.2 899.0C965.5 895.9 966.7 892.8 968.0 889.7C969.3 886.7 970.6 883.6 971.8 880.5C973.1 877.4 974.4 874.3 975.7 871.2C976.9 868.2 978.2 865.1 979.5 862.0C980.8 858.9 982.0 855.8 983.3 852.8C984.6 849.7 985.9 846.6 987.2 843.5C988.5 840.5 989.8 837.4 991.1 834.3C992.4 831.3 993.7 828.2 995.0 825.1C996.4 822.1 997.7 819.0 999.1 816.0C1000.4 812.9 1001.8 809.9 1003.2 806.9C1004.6 803.8 1006.0 800.8 1007.4 797.8C1008.8 794.8 1010.3 791.8 1011.7 788.8C1013.2 785.8 1014.7 782.8 1016.2 779.8C1017.7 776.8 1019.2 773.9 1020.7 770.9C1022.3 768.0 1023.9 765.0 1025.4 762.1C1027.0 759.2 1028.7 756.2 1030.3 753.3C1031.9 750.4 1033.6 747.5 1035.3 744.7C1036.9 741.8 1038.7 738.9 1040.4 736.1C1042.1 733.2 1043.8 730.4 1045.6 727.5C1047.4 724.7 1049.2 721.9 1051.0 719.1C1052.8 716.3 1054.6 713.5 1056.5 710.7C1058.3 708.0 1060.2 705.2 1062.1 702.5C1064.0 699.7 1065.9 697.0 1067.8 694.3C1069.8 691.5 1071.7 688.8 1073.7 686.2C1075.7 683.5 1077.6 680.8 1079.7 678.1C1081.7 675.5 1083.7 672.8 1085.7 670.2C1087.8 667.6 1089.9 664.9 1091.9 662.3C1094.0 659.7 1096.1 657.2 1098.3 654.6C1100.4 652.0 1102.5 649.5 1104.7 646.9C1106.9 644.4 1109.1 641.9 1111.3 639.5C1113.6 637.0 1115.8 634.5 1118.1 632.1C1120.4 629.7 1122.8 627.3 1125.1 625.0C1127.5 622.6 1129.9 620.3 1132.4 618.1C1134.8 615.8 1137.3 613.6 1139.8 611.4C1142.4 609.2 1144.9 607.1 1147.6 605.1C1150.2 603.0 1152.9 601.0 1155.6 599.0C1158.3 597.1 1161.0 595.2 1163.8 593.3C1166.5 591.4 1169.3 589.6 1172.0 587.7C1174.8 585.8 1177.5 583.9 1180.2 582.0C1182.9 580.0 1185.6 578.0 1188.3 576.0C1190.9 573.9 1193.5 571.8 1196.1 569.8C1198.7 567.7 1201.2 565.5 1203.8 563.4C1206.4 561.3 1208.9 559.1 1211.5 557.0C1214.1 555.0 1216.7 552.9 1219.4 550.8C1222.0 548.8 1224.7 546.8 1227.4 544.8C1230.1 542.9 1232.9 541.0 1235.7 539.3C1238.5 537.5 1241.4 535.8 1244.4 534.3C1247.3 532.8 1250.4 531.4 1253.5 530.2C1256.6 529.1 1259.8 528.0 1263.0 527.3C1266.3 526.5 1269.6 526.0 1272.9 525.6C1276.2 525.3 1279.6 525.1 1282.9 525.2C1286.2 525.2 1289.6 525.5 1292.9 525.9C1296.2 526.3 1299.5 526.9 1302.7 527.6C1306.0 528.3 1309.2 529.2 1312.4 530.2C1315.6 531.2 1318.7 532.3 1321.8 533.6C1324.9 534.8 1327.9 536.2 1330.9 537.7C1333.9 539.2 1336.8 540.8 1339.6 542.6C1342.5 544.3 1345.3 546.1 1348.0 548.0C1350.7 549.9 1353.4 552.0 1356.0 554.0C1358.6 556.1 1361.2 558.3 1363.6 560.5C1366.1 562.7 1368.6 565.0 1371.0 567.3C1373.4 569.6 1375.7 572.0 1378.0 574.4C1380.3 576.8 1382.6 579.2 1384.9 581.7C1387.1 584.1 1389.3 586.6 1391.6 589.1C1393.8 591.6 1396.0 594.1 1398.2 596.6C1400.4 599.1 1402.5 601.7 1404.7 604.2C1406.9 606.7 1409.1 609.2 1411.3 611.7C1413.5 614.2 1415.7 616.8 1417.8 619.3C1420.0 621.8 1422.2 624.3 1424.4 626.9C1426.5 629.4 1428.7 631.9 1430.9 634.5C1433.0 637.0 1435.2 639.6 1437.3 642.1C1439.5 644.6 1441.6 647.2 1443.8 649.8C1445.9 652.3 1448.0 654.9 1450.2 657.4C1452.3 660.0 1454.4 662.6 1456.5 665.2C1458.7 667.7 1460.8 670.3 1462.9 672.9C1465.0 675.5 1467.1 678.1 1469.2 680.7C1471.3 683.2 1473.4 685.8 1475.5 688.4C1477.6 691.0 1479.7 693.6 1481.7 696.2C1483.8 698.8 1485.9 701.4 1488.0 704.1C1490.0 706.7 1492.1 709.3 1494.2 711.9C1496.2 714.5 1498.3 717.1 1500.4 719.8C1502.4 722.4 1504.5 725.0 1506.5 727.6C1508.6 730.3 1510.6 732.9 1512.7 735.5C1514.7 738.2 1516.7 740.8 1518.8 743.5C1520.8 746.1 1522.8 748.7 1524.9 751.4C1526.9 754.0 1528.9 756.7 1531.0 759.3C1533.0 762.0 1535.0 764.6 1537.0 767.3C1539.0 770.0 1541.0 772.6 1543.1 775.3C1545.1 777.9 1547.1 780.6 1549.1 783.3C1551.1 785.9 1553.1 788.6 1555.1 791.3C1557.1 793.9 1559.1 796.6 1561.1 799.3C1563.1 801.9 1565.1 804.6 1567.1 807.3C1569.0 810.0 1571.0 812.6 1573.0 815.3C1575.0 818.0 1577.0 820.7 1579.0 823.3C1581.0 826.0 1582.9 828.7 1584.9 831.4C1586.9 834.1 1588.9 836.8 1590.9 839.4C1592.8 842.1 1594.8 844.8 1596.8 847.5C1598.7 850.2 1600.7 852.9 1602.7 855.6C1604.7 858.3 1606.6 861.0 1608.6 863.7C1610.6 866.3 1612.5 869.0 1614.5 871.7C1616.5 874.4 1618.4 877.1 1620.4 879.8C1622.4 882.5 1624.3 885.2 1626.3 887.9C1628.3 890.6 1630.2 893.3 1632.2 895.9C1634.2 898.6 1636.2 901.3 1638.2 903.9C1640.2 906.6 1642.2 909.3 1644.3 911.9C1646.3 914.5 1648.4 917.2 1650.4 919.8C1652.5 922.4 1654.6 925.0 1656.7 927.6C1658.8 930.2 1660.9 932.7 1663.1 935.3C1665.2 937.8 1667.4 940.4 1669.6 942.9C1671.8 945.4 1674.0 947.9 1676.2 950.4C1678.4 952.9 1680.6 955.4 1682.8 957.9C1685.1 960.3 1687.3 962.8 1689.6 965.3C1691.8 967.7 1694.1 970.2 1696.3 972.6C1698.6 975.1 1700.9 977.6 1703.1 980.0C1705.4 982.5 1707.6 984.9 1709.9 987.3C1712.2 989.8 1714.4 992.2 1716.7 994.7C1719.0 997.1 1721.3 999.6 1723.5 1002.0C1725.8 1004.4 1728.1 1006.9 1730.4 1009.3C1732.7 1011.7 1735.0 1014.1 1737.3 1016.5C1739.6 1019.0 1741.8 1021.4 1744.2 1023.8C1746.5 1026.2 1748.8 1028.6 1751.1 1031.0C1753.4 1033.4 1755.7 1035.8 1758.0 1038.2C1760.4 1040.6 1762.7 1043.0 1765.0 1045.3C1767.4 1047.7 1769.7 1050.1 1772.1 1052.5C1774.4 1054.8 1776.8 1057.2 1779.1 1059.5C1781.5 1061.9 1783.9 1064.2 1786.2 1066.6C1788.6 1068.9 1791.0 1071.2 1793.4 1073.6C1795.8 1075.9 1798.2 1078.2 1800.6 1080.5C1803.0 1082.8 1805.4 1085.1 1807.8 1087.4C1810.2 1089.7 1812.7 1092.0 1815.1 1094.3C1817.5 1096.6 1820.0 1098.8 1822.4 1101.1C1824.9 1103.4 1827.3 1105.6 1829.8 1107.9C1832.3 1110.1 1834.7 1112.4 1837.2 1114.6C1839.7 1116.8 1842.2 1119.0 1844.7 1121.3C1847.2 1123.5 1849.7 1125.7 1852.2 1127.9C1854.7 1130.1 1857.2 1132.3 1859.7 1134.4C1862.2 1136.6 1864.7 1138.8 1867.3 1141.0C1869.8 1143.1 1872.4 1145.3 1874.9 1147.4C1877.5 1149.6 1880.0 1151.7 1882.6 1153.9C1885.2 1156.0 1887.7 1158.1 1890.3 1160.2C1892.9 1162.3 1895.5 1164.4 1898.1 1166.5C1900.7 1168.6 1903.3 1170.7 1905.9 1172.8C1908.5 1174.9 1911.1 1176.9 1913.7 1179.0C1916.3 1181.0 1919.0 1183.1 1921.6 1185.1C1924.2 1187.2 1926.9 1189.2 1929.5 1191.2C1932.2 1193.2 1934.9 1195.3 1937.5 1197.3C1940.2 1199.3 1942.9 1201.3 1945.5 1203.2C1948.2 1205.2 1950.9 1207.2 1953.6 1209.2C1956.3 1211.1 1959.0 1213.1 1961.7 1215.0C1964.4 1217.0 1967.1 1218.9 1969.9 1220.8C1972.6 1222.7 1975.3 1224.6 1978.1 1226.6C1980.8 1228.5 1983.5 1230.3 1986.3 1232.2C1989.0 1234.1 1991.8 1236.0 1994.6 1237.8C1997.3 1239.7 2000.1 1241.6 2002.9 1243.4C2005.7 1245.2 2008.5 1247.1 2011.3 1248.9C2014.0 1250.7 2016.8 1252.5 2019.7 1254.3C2022.5 1256.1 2025.3 1257.9 2028.1 1259.7C2030.9 1261.5 2033.7 1263.2 2036.6 1265.0C2039.4 1266.7 2042.3 1268.5 2045.1 1270.2C2048.0 1271.9 2050.8 1273.7 2053.7 1275.4C2056.5 1277.1 2059.4 1278.8 2062.3 1280.5C2065.2 1282.1 2068.0 1283.8 2070.9 1285.5C2073.8 1287.1 2076.7 1288.8 2079.6 1290.4C2082.5 1292.1 2085.4 1293.7 2088.4 1295.3C2091.3 1296.9 2094.2 1298.5 2097.1 1300.1C2100.1 1301.7 2103.0 1303.3 2105.9 1304.9C2108.9 1306.4 2111.8 1308.0 2114.8 1309.5C2117.7 1311.1 2120.7 1312.6 2123.7 1314.1C2126.6 1315.7 2129.6 1317.2 2132.6 1318.7C2135.6 1320.2 2138.6 1321.6 2141.5 1323.1C2144.5 1324.6 2147.5 1326.0 2150.5 1327.5C2153.6 1328.9 2156.6 1330.3 2159.6 1331.8C2162.6 1333.2 2165.6 1334.6 2168.7 1336.0C2171.7 1337.4 2174.7 1338.7 2177.8 1340.1C2180.8 1341.5 2183.9 1342.8 2186.9 1344.2C2190.0 1345.5 2193.0 1346.8 2196.1 1348.1C2199.2 1349.4 2202.2 1350.7 2205.3 1352.0C2208.4 1353.3 2211.5 1354.6 2214.6 1355.8C2217.6 1357.1 2220.7 1358.3 2223.8 1359.6C2226.9 1360.8 2230.0 1362.0 2233.2 1363.2C2236.3 1364.4 2239.4 1365.6 2242.5 1366.8C2245.6 1367.9 2250.3 1369.6 2251.9 1370.2" stroke="#1c6cde" stroke-width="9" stroke-dasharray="6 40"/>
<path d="M269.0 1476.5C270.5 1475.8 275.0 1473.5 278.0 1472.1C281.1 1470.8 284.2 1469.5 287.3 1468.3C290.4 1467.2 293.6 1466.1 296.8 1465.0C299.9 1464.0 303.1 1463.0 306.3 1462.1C309.5 1461.1 312.8 1460.3 316.0 1459.4C319.2 1458.5 322.4 1457.6 325.7 1456.8C328.9 1455.9 332.1 1455.0 335.3 1454.1C338.5 1453.2 341.8 1452.3 345.0 1451.3C348.2 1450.3 351.3 1449.3 354.5 1448.3C357.7 1447.3 360.8 1446.2 364.0 1445.1C367.2 1444.0 370.3 1442.8 373.4 1441.7C376.6 1440.5 379.7 1439.3 382.8 1438.1C385.9 1436.9 389.0 1435.7 392.1 1434.4C395.2 1433.1 398.3 1431.9 401.4 1430.6C404.5 1429.3 407.5 1428.0 410.6 1426.6C413.7 1425.3 416.7 1424.0 419.8 1422.6C422.8 1421.3 425.9 1419.9 428.9 1418.5C432.0 1417.2 435.0 1415.8 438.1 1414.4C441.1 1413.0 444.1 1411.7 447.2 1410.3C450.2 1408.9 453.3 1407.5 456.3 1406.1C459.3 1404.7 462.4 1403.3 465.4 1401.9C468.4 1400.5 471.5 1399.1 474.5 1397.6C477.5 1396.2 480.5 1394.8 483.6 1393.4C486.6 1392.0 489.6 1390.5 492.6 1389.1C495.6 1387.7 498.7 1386.2 501.7 1384.8C504.7 1383.4 507.7 1381.9 510.7 1380.5C513.7 1379.0 516.7 1377.6 519.8 1376.1C522.8 1374.7 525.8 1373.2 528.8 1371.8C531.8 1370.3 534.8 1368.9 537.8 1367.4C540.8 1365.9 543.8 1364.5 546.8 1363.0C549.8 1361.5 552.8 1360.0 555.8 1358.6C558.8 1357.1 561.8 1355.6 564.8 1354.1C567.8 1352.6 570.8 1351.1 573.7 1349.7C576.7 1348.2 579.7 1346.7 582.7 1345.2C585.7 1343.7 588.7 1342.2 591.7 1340.7C594.7 1339.2 597.6 1337.7 600.6 1336.2C603.6 1334.6 606.6 1333.1 609.6 1331.6C612.5 1330.1 615.5 1328.6 618.5 1327.1C621.5 1325.5 624.4 1324.0 627.4 1322.5C630.4 1321.0 633.3 1319.4 636.3 1317.9C639.3 1316.3 642.2 1314.8 645.1 1313.2C648.1 1311.6 651.0 1310.0 653.9 1308.3C656.8 1306.7 659.7 1305.0 662.6 1303.3C665.5 1301.6 668.4 1299.9 671.2 1298.1C674.0 1296.4 676.8 1294.6 679.6 1292.7C682.4 1290.8 685.1 1288.9 687.8 1287.0C690.5 1285.0 693.2 1283.0 695.9 1281.0C698.5 1278.9 701.1 1276.8 703.6 1274.6C706.2 1272.5 708.7 1270.3 711.2 1268.1C713.7 1265.9 716.2 1263.7 718.8 1261.5C721.3 1259.3 723.8 1257.2 726.4 1255.0C729.0 1252.9 731.6 1250.8 734.2 1248.7C736.8 1246.6 739.4 1244.5 742.0 1242.4C744.6 1240.3 747.1 1238.1 749.7 1235.9C752.2 1233.8 754.7 1231.5 757.1 1229.3C759.6 1227.0 761.9 1224.6 764.3 1222.2C766.6 1219.8 768.9 1217.4 771.1 1214.9C773.3 1212.4 775.5 1209.9 777.7 1207.4C779.9 1204.8 782.0 1202.2 784.2 1199.7C786.3 1197.1 788.4 1194.5 790.6 1192.0C792.7 1189.4 794.9 1186.9 797.0 1184.3C799.1 1181.7 801.3 1179.2 803.3 1176.5C805.4 1173.9 807.3 1171.2 809.2 1168.4C811.1 1165.6 812.8 1162.8 814.5 1159.9C816.2 1157.0 817.8 1154.1 819.4 1151.2C821.0 1148.2 822.5 1145.2 824.1 1142.3C825.6 1139.3 827.1 1136.3 828.7 1133.4C830.2 1130.4 831.8 1127.5 833.4 1124.6C835.0 1121.6 836.7 1118.7 838.3 1115.8C840.0 1112.9 841.7 1110.0 843.3 1107.1C845.0 1104.2 846.6 1101.3 848.2 1098.4C849.9 1095.5 851.5 1092.6 853.1 1089.6C854.7 1086.7 856.2 1083.7 857.8 1080.8C859.3 1077.8 860.8 1074.8 862.3 1071.8C863.8 1068.8 865.3 1065.8 866.7 1062.8C868.2 1059.8 869.6 1056.8 871.0 1053.8C872.5 1050.7 873.9 1047.7 875.2 1044.7C876.6 1041.6 878.0 1038.6 879.3 1035.5C880.7 1032.5 882.0 1029.4 883.4 1026.3C884.7 1023.3 886.0 1020.2 887.3 1017.1C888.6 1014.1 889.9 1011.0 891.2 1007.9C892.5 1004.8 893.8 1001.7 895.0 998.6C896.3 995.5 897.5 992.4 898.8 989.3C900.0 986.2 901.3 983.1 902.5 980.0C903.7 976.9 904.9 973.8 906.2 970.7C907.4 967.6 908.6 964.5 909.8 961.4C911.0 958.2 912.2 955.1 913.4 952.0C914.6 948.9 915.8 945.8 917.0 942.6C918.2 939.5 919.4 936.4 920.6 933.3C921.8 930.2 922.9 927.0 924.1 923.9C925.3 920.8 926.5 917.7 927.7 914.5C928.9 911.4 930.1 908.3 931.3 905.2C932.5 902.1 933.7 898.9 934.9 895.8C936.1 892.7 937.3 889.6 938.5 886.5C939.7 883.4 941.0 880.3 942.2 877.2C943.4 874.0 944.6 870.9 945.9 867.8C947.1 864.7 948.4 861.6 949.6 858.5C950.9 855.4 952.1 852.4 953.4 849.3C954.7 846.2 956.0 843.1 957.3 840.0C958.6 836.9 959.9 833.9 961.2 830.8C962.5 827.7 963.8 824.6 965.2 821.6C966.5 818.5 967.9 815.5 969.2 812.4C970.6 809.4 971.9 806.3 973.3 803.3C974.7 800.2 976.1 797.2 977.5 794.2C978.9 791.1 980.3 788.1 981.7 785.1C983.1 782.0 984.6 779.0 986.0 776.0C987.5 773.0 988.9 770.0 990.4 767.0C991.8 764.0 993.3 761.0 994.8 758.0C996.3 755.0 997.8 752.0 999.3 749.0C1000.8 746.0 1002.3 743.1 1003.8 740.1C1005.3 737.1 1006.9 734.1 1008.4 731.2C1010.0 728.2 1011.5 725.3 1013.1 722.3C1014.6 719.4 1016.2 716.4 1017.8 713.5C1019.4 710.5 1021.0 707.6 1022.6 704.7C1024.2 701.7 1025.8 698.8 1027.4 695.9C1029.1 693.0 1030.7 690.1 1032.4 687.2C1034.0 684.3 1035.7 681.3 1037.3 678.5C1039.0 675.6 1040.7 672.7 1042.4 669.8C1044.1 666.9 1045.8 664.0 1047.5 661.2C1049.2 658.3 1050.9 655.4 1052.7 652.6C1054.4 649.7 1056.2 646.9 1058.0 644.1C1059.8 641.3 1061.6 638.5 1063.4 635.7C1065.2 632.9 1067.1 630.1 1068.9 627.3C1070.8 624.5 1072.7 621.8 1074.6 619.1C1076.6 616.3 1078.5 613.6 1080.5 610.9C1082.5 608.2 1084.5 605.6 1086.5 602.9C1088.6 600.3 1090.6 597.6 1092.7 595.0C1094.8 592.5 1097.0 589.9 1099.1 587.3C1101.3 584.8 1103.5 582.3 1105.7 579.8C1108.0 577.3 1110.3 574.9 1112.6 572.5C1114.9 570.1 1117.2 567.7 1119.6 565.3C1122.0 563.0 1124.4 560.7 1126.9 558.5C1129.4 556.2 1131.9 554.0 1134.4 551.8C1136.9 549.6 1139.5 547.5 1142.1 545.3C1144.6 543.2 1147.2 541.1 1149.9 539.1C1152.5 537.0 1155.2 535.0 1157.8 533.0C1160.5 531.0 1163.2 529.0 1165.9 527.0C1168.6 525.1 1171.3 523.1 1174.1 521.2C1176.8 519.3 1179.5 517.4 1182.3 515.5C1185.0 513.6 1187.8 511.7 1190.6 509.8C1193.3 508.0 1196.1 506.1 1198.9 504.2C1201.7 502.4 1204.5 500.6 1207.3 498.8C1210.1 497.0 1213.0 495.3 1215.9 493.6C1218.8 491.9 1221.7 490.3 1224.7 488.8C1227.6 487.3 1230.7 485.8 1233.7 484.5C1236.8 483.1 1239.9 481.9 1243.0 480.8C1246.2 479.7 1249.4 478.7 1252.6 477.9C1255.9 477.1 1259.2 476.5 1262.5 476.0C1265.8 475.5 1269.1 475.1 1272.4 474.9C1275.8 474.8 1279.1 474.7 1282.4 474.9C1285.8 475.0 1289.1 475.4 1292.4 475.9C1295.7 476.4 1299.0 477.1 1302.2 477.9C1305.4 478.8 1308.6 479.9 1311.7 481.1C1314.8 482.4 1317.8 483.8 1320.8 485.4C1323.7 487.0 1326.6 488.7 1329.3 490.6C1332.1 492.5 1334.8 494.5 1337.4 496.6C1340.0 498.7 1342.5 500.9 1345.0 503.1C1347.4 505.4 1349.8 507.7 1352.2 510.1C1354.6 512.4 1356.9 514.8 1359.2 517.2C1361.6 519.6 1363.9 522.0 1366.2 524.5C1368.4 526.9 1370.7 529.3 1373.0 531.8C1375.2 534.3 1377.5 536.7 1379.7 539.2C1382.0 541.7 1384.2 544.2 1386.4 546.7C1388.6 549.2 1390.8 551.7 1393.0 554.3C1395.1 556.8 1397.3 559.3 1399.5 561.9C1401.6 564.4 1403.8 567.0 1405.9 569.6C1408.0 572.2 1410.2 574.7 1412.3 577.3C1414.4 579.9 1416.5 582.5 1418.6 585.1C1420.7 587.7 1422.7 590.3 1424.8 593.0C1426.9 595.6 1429.0 598.2 1431.0 600.8C1433.1 603.5 1435.1 606.1 1437.1 608.8C1439.2 611.4 1441.2 614.1 1443.2 616.7C1445.3 619.4 1447.3 622.0 1449.3 624.7C1451.3 627.4 1453.3 630.1 1455.3 632.7C1457.3 635.4 1459.3 638.1 1461.3 640.8C1463.3 643.5 1465.3 646.2 1467.2 648.8C1469.2 651.5 1471.2 654.2 1473.2 656.9C1475.1 659.6 1477.1 662.3 1479.1 665.0C1481.0 667.7 1483.0 670.4 1484.9 673.2C1486.9 675.9 1488.8 678.6 1490.8 681.3C1492.8 684.0 1494.7 686.7 1496.7 689.4C1498.6 692.1 1500.6 694.8 1502.5 697.5C1504.5 700.3 1506.4 703.0 1508.4 705.7C1510.3 708.4 1512.3 711.1 1514.2 713.8C1516.2 716.5 1518.1 719.2 1520.1 722.0C1522.0 724.7 1524.0 727.4 1525.9 730.1C1527.9 732.8 1529.8 735.5 1531.8 738.2C1533.8 740.9 1535.7 743.6 1537.7 746.3C1539.6 749.0 1541.6 751.8 1543.6 754.5C1545.5 757.2 1547.5 759.9 1549.4 762.6C1551.4 765.3 1553.4 768.0 1555.3 770.7C1557.3 773.4 1559.3 776.1 1561.2 778.8C1563.2 781.5 1565.2 784.2 1567.2 786.9C1569.1 789.6 1571.1 792.3 1573.1 795.0C1575.1 797.6 1577.0 800.3 1579.0 803.0C1581.0 805.7 1583.0 808.4 1585.0 811.1C1587.0 813.8 1589.0 816.5 1591.0 819.1C1593.0 821.8 1594.9 824.5 1596.9 827.2C1598.9 829.8 1601.0 832.5 1603.0 835.2C1605.0 837.9 1607.0 840.5 1609.0 843.2C1611.0 845.9 1613.0 848.5 1615.0 851.2C1617.1 853.8 1619.1 856.5 1621.1 859.2C1623.1 861.8 1625.2 864.5 1627.2 867.1C1629.3 869.8 1631.3 872.4 1633.3 875.0C1635.4 877.7 1637.4 880.3 1639.5 883.0C1641.5 885.6 1643.6 888.2 1645.7 890.9C1647.7 893.5 1649.8 896.1 1651.9 898.7C1653.9 901.4 1656.0 904.0 1658.1 906.6C1660.2 909.2 1662.3 911.8 1664.4 914.4C1666.5 917.0 1668.6 919.6 1670.7 922.2C1672.8 924.8 1674.9 927.4 1677.0 930.0C1679.1 932.6 1681.2 935.2 1683.3 937.7C1685.5 940.3 1687.6 942.9 1689.7 945.4C1691.9 948.0 1694.0 950.6 1696.2 953.1C1698.3 955.7 1700.5 958.2 1702.6 960.8C1704.8 963.3 1707.0 965.9 1709.1 968.4C1711.3 971.0 1713.5 973.5 1715.7 976.0C1717.9 978.5 1720.1 981.1 1722.3 983.6C1724.5 986.1 1726.7 988.6 1728.9 991.1C1731.1 993.6 1733.3 996.1 1735.6 998.6C1737.8 1001.1 1740.0 1003.6 1742.3 1006.0C1744.5 1008.5 1746.8 1011.0 1749.0 1013.4C1751.3 1015.9 1753.5 1018.4 1755.8 1020.8C1758.1 1023.3 1760.4 1025.7 1762.6 1028.1C1764.9 1030.6 1767.2 1033.0 1769.5 1035.4C1771.8 1037.8 1774.2 1040.2 1776.5 1042.7C1778.8 1045.1 1781.1 1047.5 1783.5 1049.8C1785.8 1052.2 1788.1 1054.6 1790.5 1057.0C1792.8 1059.4 1795.2 1061.7 1797.6 1064.1C1799.9 1066.4 1802.3 1068.8 1804.7 1071.1C1807.1 1073.5 1809.5 1075.8 1811.8 1078.1C1814.2 1080.5 1816.6 1082.8 1819.1 1085.1C1821.5 1087.4 1823.9 1089.7 1826.3 1092.0C1828.7 1094.3 1831.2 1096.6 1833.6 1098.9C1836.1 1101.2 1838.5 1103.4 1841.0 1105.7C1843.4 1108.0 1845.9 1110.2 1848.4 1112.5C1850.8 1114.7 1853.3 1117.0 1855.8 1119.2C1858.3 1121.4 1860.8 1123.6 1863.3 1125.9C1865.8 1128.1 1868.3 1130.3 1870.8 1132.5C1873.3 1134.7 1875.9 1136.9 1878.4 1139.0C1880.9 1141.2 1883.5 1143.4 1886.0 1145.6C1888.5 1147.7 1891.1 1149.9 1893.7 1152.0C1896.2 1154.2 1898.8 1156.3 1901.3 1158.5C1903.9 1160.6 1906.5 1162.7 1909.1 1164.8C1911.7 1166.9 1914.3 1169.0 1916.9 1171.1C1919.5 1173.2 1922.1 1175.3 1924.7 1177.4C1927.3 1179.5 1929.9 1181.6 1932.6 1183.6C1935.2 1185.7 1937.8 1187.7 1940.5 1189.8C1943.1 1191.8 1945.7 1193.9 1948.4 1195.9C1951.1 1197.9 1953.7 1200.0 1956.4 1202.0C1959.1 1204.0 1961.7 1206.0 1964.4 1208.0C1967.1 1210.0 1969.8 1211.9 1972.5 1213.9C1975.2 1215.9 1977.9 1217.9 1980.6 1219.8C1983.3 1221.8 1986.0 1223.7 1988.7 1225.7C1991.4 1227.6 1994.2 1229.5 1996.9 1231.5C1999.6 1233.4 2002.4 1235.3 2005.1 1237.2C2007.9 1239.1 2010.6 1241.0 2013.4 1242.9C2016.1 1244.8 2018.9 1246.6 2021.7 1248.5C2024.4 1250.4 2027.2 1252.2 2030.0 1254.1C2032.8 1255.9 2035.6 1257.8 2038.4 1259.6C2041.2 1261.4 2044.0 1263.2 2046.8 1265.0C2049.6 1266.9 2052.4 1268.7 2055.2 1270.5C2058.0 1272.2 2060.9 1274.0 2063.7 1275.8C2066.5 1277.6 2069.4 1279.3 2072.2 1281.1C2075.1 1282.8 2077.9 1284.6 2080.8 1286.3C2083.6 1288.0 2086.5 1289.7 2089.4 1291.4C2092.3 1293.1 2095.1 1294.8 2098.0 1296.5C2100.9 1298.2 2103.8 1299.9 2106.7 1301.5C2109.6 1303.2 2112.5 1304.8 2115.4 1306.4C2118.4 1308.1 2121.3 1309.7 2124.2 1311.3C2127.2 1312.9 2130.1 1314.5 2133.0 1316.0C2136.0 1317.6 2138.9 1319.2 2141.9 1320.7C2144.9 1322.3 2147.8 1323.8 2150.8 1325.3C2153.8 1326.8 2156.8 1328.3 2159.8 1329.8C2162.8 1331.3 2165.8 1332.8 2168.8 1334.2C2171.8 1335.7 2174.8 1337.1 2177.8 1338.5C2180.8 1340.0 2183.9 1341.4 2186.9 1342.7C2190.0 1344.1 2193.0 1345.5 2196.1 1346.8C2199.1 1348.2 2202.2 1349.5 2205.3 1350.8C2208.3 1352.2 2211.4 1353.5 2214.5 1354.7C2217.6 1356.0 2220.7 1357.3 2223.8 1358.5C2226.9 1359.7 2230.0 1361.0 2233.1 1362.2C2236.2 1363.4 2239.4 1364.5 2242.5 1365.7C2245.6 1366.9 2250.3 1368.5 2251.9 1369.1" stroke="#36ac6a" stroke-width="9" stroke-dasharray="39 26 5 26"/>
<path d="M269.0 1476.2C270.5 1475.6 275.1 1473.7 278.2 1472.5C281.3 1471.3 284.4 1470.1 287.6 1468.9C290.7 1467.8 293.9 1466.7 297.0 1465.6C300.2 1464.5 303.3 1463.5 306.5 1462.4C309.7 1461.4 312.9 1460.4 316.1 1459.4C319.2 1458.4 322.4 1457.4 325.6 1456.4C328.8 1455.4 332.0 1454.5 335.2 1453.5C338.4 1452.5 341.6 1451.6 344.8 1450.6C348.0 1449.6 351.2 1448.6 354.3 1447.6C357.5 1446.6 360.7 1445.6 363.9 1444.6C367.1 1443.6 370.2 1442.6 373.4 1441.5C376.6 1440.4 379.7 1439.4 382.9 1438.2C386.0 1437.1 389.1 1436.0 392.3 1434.8C395.4 1433.6 398.5 1432.4 401.6 1431.1C404.7 1429.9 407.7 1428.6 410.8 1427.3C413.9 1426.0 416.9 1424.6 420.0 1423.3C423.0 1421.9 426.1 1420.5 429.1 1419.1C432.1 1417.7 435.2 1416.3 438.2 1414.9C441.2 1413.5 444.2 1412.0 447.2 1410.6C450.2 1409.1 453.2 1407.6 456.2 1406.2C459.2 1404.7 462.2 1403.2 465.2 1401.8C468.2 1400.3 471.2 1398.8 474.2 1397.3C477.2 1395.9 480.2 1394.4 483.2 1392.9C486.2 1391.5 489.2 1390.0 492.2 1388.6C495.2 1387.1 498.2 1385.7 501.2 1384.3C504.2 1382.8 507.2 1381.4 510.3 1380.0C513.3 1378.6 516.3 1377.1 519.3 1375.7C522.3 1374.3 525.4 1372.9 528.4 1371.5C531.4 1370.1 534.5 1368.7 537.5 1367.3C540.5 1365.9 543.5 1364.5 546.6 1363.1C549.6 1361.7 552.6 1360.3 555.6 1358.8C558.7 1357.4 561.7 1356.0 564.7 1354.6C567.7 1353.2 570.7 1351.7 573.7 1350.3C576.7 1348.9 579.8 1347.4 582.8 1346.0C585.8 1344.5 588.8 1343.0 591.7 1341.5C594.7 1340.1 597.7 1338.6 600.7 1337.1C603.7 1335.6 606.7 1334.1 609.6 1332.5C612.6 1331.0 615.5 1329.4 618.5 1327.9C621.4 1326.3 624.4 1324.7 627.3 1323.1C630.2 1321.5 633.2 1319.9 636.1 1318.3C639.0 1316.6 641.9 1315.0 644.7 1313.3C647.6 1311.6 650.5 1309.9 653.4 1308.2C656.2 1306.5 659.0 1304.7 661.9 1302.9C664.7 1301.2 667.5 1299.4 670.3 1297.5C673.1 1295.7 675.9 1293.8 678.6 1292.0C681.4 1290.1 684.1 1288.2 686.9 1286.3C689.6 1284.4 692.3 1282.4 695.0 1280.5C697.7 1278.5 700.4 1276.6 703.1 1274.6C705.8 1272.6 708.4 1270.6 711.1 1268.6C713.8 1266.5 716.4 1264.5 719.0 1262.4C721.7 1260.4 724.3 1258.3 726.9 1256.2C729.5 1254.2 732.1 1252.1 734.6 1249.9C737.2 1247.7 739.7 1245.6 742.2 1243.3C744.6 1241.0 747.0 1238.7 749.4 1236.4C751.7 1234.0 754.0 1231.5 756.2 1229.0C758.4 1226.6 760.5 1223.9 762.8 1221.5C765.0 1219.0 767.2 1216.3 770.0 1214.6C772.7 1212.8 775.9 1211.4 779.1 1210.7C782.3 1210.1 785.8 1211.1 789.1 1210.7C792.4 1210.2 795.7 1209.4 798.7 1208.1C801.7 1206.8 804.5 1204.8 807.2 1202.9C809.9 1200.9 812.4 1198.7 815.0 1196.5C817.5 1194.4 820.0 1192.1 822.5 1189.9C825.0 1187.7 827.5 1185.5 830.0 1183.2C832.4 1181.0 834.9 1178.7 837.3 1176.4C839.8 1174.2 842.2 1171.9 844.6 1169.5C846.9 1167.2 849.3 1164.8 851.6 1162.4C853.9 1160.0 856.2 1157.5 858.4 1155.0C860.6 1152.5 862.8 1150.0 864.9 1147.5C867.0 1144.9 869.1 1142.3 871.2 1139.7C873.3 1137.0 875.3 1134.4 877.3 1131.7C879.3 1129.0 881.2 1126.3 883.1 1123.6C885.0 1120.8 886.9 1118.1 888.7 1115.3C890.6 1112.5 892.4 1109.7 894.2 1106.9C895.9 1104.1 897.7 1101.2 899.4 1098.4C901.1 1095.5 902.8 1092.6 904.5 1089.7C906.1 1086.8 907.8 1083.9 909.4 1081.0C911.0 1078.1 912.6 1075.1 914.2 1072.2C915.7 1069.3 917.3 1066.3 918.8 1063.3C920.4 1060.4 921.9 1057.4 923.4 1054.4C924.9 1051.4 926.3 1048.4 927.8 1045.4C929.3 1042.4 930.7 1039.4 932.2 1036.4C933.6 1033.4 935.0 1030.4 936.5 1027.4C937.9 1024.4 939.3 1021.3 940.7 1018.3C942.1 1015.3 943.5 1012.3 944.9 1009.2C946.3 1006.2 947.7 1003.2 949.1 1000.1C950.5 997.1 951.9 994.1 953.3 991.0C954.7 988.0 956.1 985.0 957.5 982.0C958.9 978.9 960.3 975.9 961.7 972.9C963.1 969.9 964.5 966.8 965.9 963.8C967.4 960.8 968.8 957.8 970.2 954.8C971.6 951.7 973.1 948.7 974.5 945.7C976.0 942.7 977.5 939.7 978.9 936.7C980.4 933.7 981.9 930.7 983.4 927.8C984.9 924.8 986.4 921.8 987.9 918.8C989.4 915.9 990.9 912.9 992.5 909.9C994.0 907.0 995.6 904.0 997.2 901.1C998.7 898.1 1000.3 895.2 1001.9 892.3C1003.5 889.4 1005.2 886.4 1006.8 883.5C1008.4 880.6 1010.1 877.7 1011.8 874.8C1013.5 872.0 1015.1 869.1 1016.9 866.2C1018.6 863.4 1020.3 860.5 1022.1 857.7C1023.8 854.8 1025.6 852.0 1027.4 849.2C1029.2 846.4 1031.0 843.6 1032.9 840.8C1034.7 838.0 1036.6 835.3 1038.5 832.5C1040.3 829.8 1042.3 827.0 1044.2 824.3C1046.1 821.6 1048.1 818.9 1050.1 816.2C1052.1 813.5 1054.1 810.9 1056.1 808.2C1058.2 805.6 1060.3 803.0 1062.4 800.4C1064.5 797.8 1066.6 795.2 1068.8 792.7C1070.9 790.1 1073.1 787.6 1075.3 785.1C1077.6 782.7 1079.8 780.2 1082.1 777.8C1084.4 775.3 1086.7 772.9 1089.1 770.6C1091.4 768.2 1093.8 765.9 1096.2 763.6C1098.7 761.3 1101.1 759.0 1103.6 756.8C1106.1 754.6 1108.6 752.4 1111.2 750.3C1113.7 748.1 1116.3 746.0 1119.0 744.0C1121.6 741.9 1124.3 739.9 1127.0 738.0C1129.7 736.0 1132.4 734.1 1135.2 732.2C1138.0 730.4 1140.7 728.5 1143.6 726.8C1146.4 725.0 1149.2 723.2 1152.1 721.5C1154.9 719.8 1157.8 718.1 1160.7 716.4C1163.6 714.8 1166.5 713.2 1169.5 711.5C1172.4 709.9 1175.3 708.4 1178.3 706.8C1181.2 705.3 1184.2 703.7 1187.2 702.2C1190.1 700.7 1193.1 699.2 1196.1 697.7C1199.1 696.2 1202.1 694.7 1205.1 693.2C1208.0 691.7 1211.0 690.3 1214.0 688.8C1217.0 687.3 1220.0 685.8 1223.0 684.4C1226.0 682.9 1229.0 681.5 1232.1 680.1C1235.1 678.7 1238.1 677.3 1241.2 676.0C1244.3 674.7 1247.4 673.4 1250.5 672.3C1253.6 671.1 1256.8 670.0 1260.0 669.0C1263.2 668.1 1266.4 667.2 1269.6 666.5C1272.9 665.8 1276.2 665.2 1279.5 664.8C1282.8 664.4 1286.2 664.2 1289.5 664.2C1292.8 664.2 1296.2 664.3 1299.5 664.7C1302.8 665.0 1306.1 665.6 1309.4 666.2C1312.6 666.9 1315.9 667.7 1319.1 668.6C1322.3 669.5 1325.5 670.6 1328.6 671.8C1331.7 673.0 1334.8 674.2 1337.8 675.6C1340.9 677.0 1343.9 678.4 1346.8 680.0C1349.8 681.5 1352.7 683.1 1355.6 684.8C1358.5 686.5 1361.3 688.3 1364.1 690.1C1366.9 691.9 1369.7 693.8 1372.4 695.7C1375.1 697.6 1377.8 699.6 1380.5 701.6C1383.2 703.6 1385.8 705.7 1388.4 707.8C1391.0 709.9 1393.5 712.0 1396.1 714.2C1398.6 716.3 1401.1 718.6 1403.6 720.8C1406.1 723.0 1408.5 725.3 1410.9 727.6C1413.4 729.9 1415.8 732.2 1418.1 734.5C1420.5 736.9 1422.9 739.2 1425.2 741.6C1427.6 744.0 1429.9 746.4 1432.2 748.8C1434.6 751.2 1436.9 753.6 1439.2 756.0C1441.5 758.4 1443.8 760.8 1446.1 763.2C1448.4 765.7 1450.7 768.1 1453.0 770.5C1455.2 772.9 1457.5 775.4 1459.8 777.8C1462.1 780.2 1464.4 782.6 1466.7 785.1C1469.0 787.5 1471.3 789.9 1473.5 792.4C1475.8 794.8 1478.1 797.2 1480.4 799.7C1482.6 802.1 1484.9 804.6 1487.2 807.0C1489.5 809.4 1491.7 811.9 1494.0 814.3C1496.3 816.8 1498.6 819.2 1500.8 821.7C1503.1 824.1 1505.4 826.6 1507.6 829.0C1509.9 831.5 1512.2 833.9 1514.5 836.4C1516.7 838.8 1519.0 841.2 1521.3 843.7C1523.5 846.1 1525.8 848.6 1528.1 851.0C1530.3 853.5 1532.6 855.9 1534.8 858.4C1537.1 860.8 1539.4 863.3 1541.6 865.7C1543.9 868.2 1546.2 870.6 1548.4 873.1C1550.7 875.5 1553.0 878.0 1555.2 880.4C1557.5 882.9 1559.8 885.3 1562.0 887.8C1564.3 890.2 1566.6 892.7 1568.9 895.1C1571.1 897.6 1573.4 900.0 1575.7 902.5C1577.9 904.9 1580.2 907.3 1582.5 909.8C1584.8 912.2 1587.0 914.7 1589.3 917.1C1591.6 919.5 1593.9 922.0 1596.2 924.4C1598.4 926.8 1600.7 929.3 1603.0 931.7C1605.3 934.1 1607.6 936.6 1609.9 939.0C1612.2 941.4 1614.5 943.9 1616.8 946.3C1619.1 948.7 1621.4 951.1 1623.7 953.5C1626.0 955.9 1628.3 958.4 1630.6 960.8C1632.9 963.2 1635.2 965.6 1637.5 968.0C1639.8 970.4 1642.1 972.8 1644.4 975.2C1646.8 977.6 1649.1 980.0 1651.4 982.4C1653.7 984.8 1656.1 987.2 1658.4 989.6C1660.7 991.9 1663.1 994.3 1665.4 996.7C1667.8 999.1 1670.1 1001.5 1672.5 1003.8C1674.8 1006.2 1677.2 1008.6 1679.5 1010.9C1681.9 1013.3 1684.2 1015.6 1686.6 1018.0C1689.0 1020.3 1691.3 1022.7 1693.7 1025.0C1696.1 1027.4 1698.5 1029.7 1700.9 1032.0C1703.3 1034.4 1705.6 1036.7 1708.0 1039.0C1710.4 1041.4 1712.8 1043.7 1715.2 1046.0C1717.7 1048.3 1720.1 1050.6 1722.5 1052.9C1724.9 1055.2 1727.3 1057.5 1729.8 1059.8C1732.2 1062.1 1734.6 1064.3 1737.1 1066.6C1739.5 1068.9 1742.0 1071.2 1744.4 1073.4C1746.9 1075.7 1749.3 1077.9 1751.8 1080.2C1754.3 1082.4 1756.7 1084.7 1759.2 1086.9C1761.7 1089.2 1764.2 1091.4 1766.7 1093.6C1769.1 1095.8 1771.6 1098.0 1774.1 1100.2C1776.7 1102.4 1779.2 1104.6 1781.7 1106.8C1784.2 1109.0 1786.7 1111.2 1789.2 1113.4C1791.8 1115.6 1794.3 1117.7 1796.9 1119.9C1799.4 1122.1 1802.0 1124.2 1804.5 1126.4C1807.1 1128.5 1809.6 1130.6 1812.2 1132.8C1814.8 1134.9 1817.3 1137.0 1819.9 1139.1C1822.5 1141.2 1825.1 1143.3 1827.7 1145.4C1830.3 1147.5 1832.9 1149.6 1835.5 1151.7C1838.1 1153.8 1840.7 1155.9 1843.3 1157.9C1846.0 1160.0 1848.6 1162.0 1851.2 1164.1C1853.9 1166.1 1856.5 1168.2 1859.2 1170.2C1861.8 1172.2 1864.5 1174.3 1867.1 1176.3C1869.8 1178.3 1872.5 1180.3 1875.1 1182.3C1877.8 1184.3 1880.5 1186.3 1883.2 1188.2C1885.9 1190.2 1888.6 1192.2 1891.3 1194.1C1894.0 1196.1 1896.7 1198.0 1899.4 1200.0C1902.1 1201.9 1904.9 1203.8 1907.6 1205.7C1910.3 1207.7 1913.1 1209.6 1915.8 1211.5C1918.5 1213.4 1921.3 1215.3 1924.0 1217.1C1926.8 1219.0 1929.6 1220.9 1932.3 1222.7C1935.1 1224.6 1937.9 1226.5 1940.7 1228.3C1943.5 1230.1 1946.3 1232.0 1949.1 1233.8C1951.9 1235.6 1954.7 1237.4 1957.5 1239.2C1960.3 1241.0 1963.1 1242.8 1965.9 1244.6C1968.8 1246.3 1971.6 1248.1 1974.4 1249.8C1977.3 1251.6 1980.1 1253.3 1983.0 1255.1C1985.8 1256.8 1988.7 1258.5 1991.5 1260.2C1994.4 1261.9 1997.3 1263.6 2000.2 1265.3C2003.0 1267.0 2005.9 1268.7 2008.8 1270.4C2011.7 1272.0 2014.6 1273.7 2017.5 1275.3C2020.4 1277.0 2023.3 1278.6 2026.2 1280.2C2029.2 1281.9 2032.1 1283.5 2035.0 1285.1C2037.9 1286.7 2040.9 1288.3 2043.8 1289.9C2046.7 1291.5 2049.7 1293.0 2052.6 1294.6C2055.6 1296.2 2058.5 1297.7 2061.5 1299.3C2064.4 1300.8 2067.4 1302.4 2070.3 1303.9C2073.3 1305.4 2076.3 1307.0 2079.3 1308.5C2082.2 1310.0 2085.2 1311.5 2088.2 1313.0C2091.2 1314.5 2094.2 1316.0 2097.1 1317.5C2100.1 1318.9 2103.1 1320.4 2106.1 1321.9C2109.1 1323.4 2112.1 1324.8 2115.1 1326.3C2118.1 1327.7 2121.1 1329.2 2124.1 1330.6C2127.2 1332.0 2130.2 1333.5 2133.2 1334.9C2136.2 1336.3 2139.2 1337.7 2142.3 1339.2C2145.3 1340.6 2148.3 1342.0 2151.3 1343.4C2154.4 1344.8 2157.4 1346.2 2160.4 1347.5C2163.5 1348.9 2166.5 1350.3 2169.5 1351.7C2172.6 1353.1 2175.6 1354.4 2178.7 1355.8C2181.7 1357.2 2184.8 1358.5 2187.8 1359.9C2190.9 1361.2 2193.9 1362.6 2197.0 1363.9C2200.0 1365.3 2203.1 1366.6 2206.1 1368.0C2209.2 1369.3 2212.3 1370.6 2215.3 1371.9C2218.4 1373.3 2221.4 1374.6 2224.5 1375.9C2227.6 1377.2 2230.6 1378.6 2233.7 1379.9C2236.8 1381.2 2239.9 1382.5 2242.9 1383.8C2246.0 1385.1 2250.5 1387.1 2252.0 1387.7" stroke="#ad78de" stroke-width="9" stroke-dasharray="28 26 5 26 5 26"/>
<path d="M269.0 1476.2C270.5 1475.6 275.1 1473.7 278.2 1472.5C281.3 1471.3 284.4 1470.1 287.6 1468.9C290.7 1467.8 293.8 1466.7 297.0 1465.6C300.2 1464.5 303.3 1463.5 306.5 1462.5C309.7 1461.4 312.8 1460.4 316.0 1459.4C319.2 1458.4 322.4 1457.4 325.6 1456.4C328.8 1455.5 331.9 1454.5 335.1 1453.5C338.3 1452.6 341.5 1451.6 344.7 1450.6C347.9 1449.6 351.1 1448.7 354.3 1447.7C357.4 1446.7 360.6 1445.7 363.8 1444.7C367.0 1443.6 370.1 1442.6 373.3 1441.5C376.5 1440.5 379.6 1439.4 382.8 1438.3C385.9 1437.1 389.0 1436.0 392.1 1434.8C395.3 1433.6 398.4 1432.4 401.5 1431.2C404.5 1429.9 407.6 1428.6 410.7 1427.3C413.8 1426.0 416.8 1424.7 419.9 1423.3C422.9 1422.0 425.9 1420.6 429.0 1419.2C432.0 1417.8 435.0 1416.4 438.0 1415.0C441.0 1413.5 444.0 1412.1 447.0 1410.6C450.0 1409.2 453.0 1407.7 456.0 1406.3C459.0 1404.8 462.0 1403.3 465.0 1401.9C468.0 1400.4 471.0 1398.9 474.0 1397.4C477.0 1396.0 480.0 1394.5 483.0 1393.0C486.0 1391.6 489.0 1390.1 492.0 1388.7C495.0 1387.2 498.0 1385.8 501.0 1384.4C504.0 1382.9 507.0 1381.5 510.0 1380.1C513.1 1378.7 516.1 1377.3 519.1 1375.8C522.1 1374.4 525.1 1373.0 528.2 1371.6C531.2 1370.2 534.2 1368.8 537.2 1367.4C540.3 1366.0 543.3 1364.6 546.3 1363.2C549.3 1361.8 552.3 1360.4 555.4 1359.0C558.4 1357.6 561.4 1356.1 564.4 1354.7C567.4 1353.3 570.4 1351.9 573.5 1350.4C576.5 1349.0 579.5 1347.5 582.5 1346.1C585.5 1344.6 588.5 1343.2 591.4 1341.7C594.4 1340.2 597.4 1338.7 600.4 1337.2C603.4 1335.7 606.3 1334.2 609.3 1332.7C612.3 1331.1 615.2 1329.6 618.2 1328.0C621.1 1326.5 624.1 1324.9 627.0 1323.3C629.9 1321.7 632.8 1320.1 635.7 1318.5C638.6 1316.8 641.5 1315.2 644.4 1313.5C647.3 1311.8 650.2 1310.1 653.0 1308.4C655.9 1306.7 658.7 1304.9 661.5 1303.2C664.4 1301.4 667.2 1299.6 670.0 1297.8C672.8 1295.9 675.5 1294.1 678.3 1292.2C681.1 1290.4 683.8 1288.5 686.5 1286.6C689.3 1284.7 692.0 1282.7 694.7 1280.8C697.4 1278.8 700.1 1276.8 702.7 1274.9C705.4 1272.9 708.1 1270.9 710.7 1268.8C713.4 1266.8 716.0 1264.8 718.6 1262.7C721.3 1260.7 723.9 1258.6 726.5 1256.5C729.1 1254.4 731.7 1252.3 734.2 1250.1C736.7 1248.0 739.3 1245.8 741.7 1243.6C744.2 1241.3 746.7 1239.1 749.0 1236.7C751.4 1234.4 753.7 1232.0 756.0 1229.5C758.2 1227.1 760.3 1224.4 762.6 1222.0C764.9 1219.6 767.1 1217.1 769.7 1215.0C772.3 1213.0 775.2 1211.1 778.2 1209.7C781.2 1208.4 784.6 1207.9 787.7 1206.8C790.9 1205.8 794.2 1205.1 797.2 1203.7C800.2 1202.3 803.0 1200.3 805.6 1198.3C808.3 1196.3 810.6 1193.9 813.0 1191.6C815.4 1189.3 817.7 1186.8 820.0 1184.5C822.4 1182.1 824.8 1179.8 827.1 1177.4C829.5 1175.1 831.9 1172.8 834.3 1170.5C836.7 1168.2 839.1 1165.9 841.5 1163.5C843.9 1161.2 846.3 1158.9 848.6 1156.5C850.9 1154.1 853.2 1151.7 855.5 1149.2C857.7 1146.7 859.9 1144.2 861.9 1141.6C864.0 1139.0 866.0 1136.3 868.0 1133.6C869.9 1130.9 871.8 1128.1 873.6 1125.3C875.4 1122.5 877.1 1119.6 878.8 1116.8C880.5 1113.9 882.1 1111.0 883.7 1108.0C885.3 1105.1 886.8 1102.2 888.3 1099.2C889.8 1096.2 891.3 1093.2 892.8 1090.2C894.2 1087.2 895.7 1084.2 897.1 1081.2C898.6 1078.2 900.0 1075.2 901.4 1072.2C902.8 1069.2 904.3 1066.2 905.7 1063.1C907.1 1060.1 908.5 1057.1 909.9 1054.1C911.2 1051.0 912.6 1048.0 914.0 1045.0C915.4 1041.9 916.7 1038.9 918.1 1035.8C919.5 1032.8 920.8 1029.7 922.1 1026.7C923.5 1023.6 924.8 1020.6 926.1 1017.5C927.4 1014.5 928.8 1011.4 930.1 1008.3C931.4 1005.2 932.6 1002.2 933.9 999.1C935.2 996.0 936.5 992.9 937.7 989.8C939.0 986.8 940.2 983.7 941.5 980.6C942.7 977.5 944.0 974.4 945.2 971.3C946.4 968.2 947.7 965.1 948.9 962.0C950.1 958.9 951.3 955.8 952.5 952.7C953.8 949.6 955.0 946.5 956.2 943.4C957.4 940.3 958.6 937.2 959.8 934.1C961.0 930.9 962.3 927.8 963.5 924.7C964.7 921.6 965.9 918.5 967.1 915.4C968.3 912.3 969.6 909.2 970.8 906.1C972.0 903.0 973.3 899.9 974.5 896.8C975.7 893.7 977.0 890.6 978.2 887.5C979.5 884.5 980.7 881.4 982.0 878.3C983.3 875.2 984.5 872.1 985.8 869.0C987.1 866.0 988.4 862.9 989.7 859.8C991.0 856.8 992.3 853.7 993.7 850.6C995.0 847.6 996.3 844.5 997.7 841.5C999.0 838.4 1000.4 835.4 1001.8 832.4C1003.2 829.3 1004.6 826.3 1006.0 823.3C1007.4 820.2 1008.8 817.2 1010.2 814.2C1011.7 811.2 1013.1 808.2 1014.6 805.2C1016.1 802.2 1017.5 799.2 1019.0 796.3C1020.5 793.3 1022.1 790.3 1023.6 787.4C1025.1 784.4 1026.7 781.5 1028.3 778.5C1029.9 775.6 1031.5 772.7 1033.1 769.8C1034.7 766.8 1036.3 763.9 1038.0 761.0C1039.7 758.2 1041.3 755.3 1043.0 752.4C1044.7 749.5 1046.5 746.7 1048.2 743.9C1050.0 741.0 1051.8 738.2 1053.6 735.4C1055.4 732.6 1057.2 729.8 1059.0 727.0C1060.9 724.2 1062.7 721.5 1064.6 718.7C1066.5 716.0 1068.5 713.3 1070.4 710.6C1072.4 707.9 1074.4 705.2 1076.4 702.5C1078.4 699.9 1080.4 697.2 1082.5 694.6C1084.5 692.0 1086.6 689.4 1088.8 686.8C1090.9 684.3 1093.0 681.7 1095.2 679.2C1097.4 676.7 1099.6 674.2 1101.9 671.7C1104.1 669.3 1106.4 666.8 1108.7 664.4C1111.0 662.0 1113.3 659.6 1115.7 657.3C1118.0 654.9 1120.4 652.6 1122.9 650.3C1125.3 648.0 1127.7 645.7 1130.2 643.5C1132.7 641.3 1135.2 639.1 1137.8 636.9C1140.3 634.8 1142.9 632.7 1145.4 630.5C1148.0 628.4 1150.6 626.3 1153.2 624.3C1155.8 622.2 1158.5 620.2 1161.1 618.1C1163.8 616.1 1166.4 614.1 1169.1 612.1C1171.7 610.0 1174.4 608.0 1177.1 606.0C1179.7 604.0 1182.4 602.1 1185.1 600.1C1187.7 598.1 1190.4 596.1 1193.1 594.1C1195.8 592.1 1198.4 590.1 1201.1 588.1C1203.7 586.0 1206.4 584.0 1209.0 582.0C1211.7 580.0 1214.3 577.9 1217.0 575.9C1219.6 573.9 1222.3 571.9 1225.1 570.0C1227.8 568.1 1230.5 566.2 1233.3 564.4C1236.1 562.6 1239.0 560.9 1241.9 559.3C1244.8 557.7 1247.8 556.2 1250.9 554.8C1253.9 553.5 1257.0 552.3 1260.2 551.3C1263.4 550.2 1266.6 549.4 1269.9 548.8C1273.1 548.1 1276.5 547.7 1279.8 547.4C1283.1 547.1 1286.4 546.9 1289.8 547.0C1293.1 547.0 1296.4 547.2 1299.8 547.5C1303.1 547.9 1306.4 548.4 1309.6 549.1C1312.9 549.7 1316.1 550.5 1319.3 551.5C1322.5 552.5 1325.7 553.6 1328.7 554.9C1331.8 556.1 1334.9 557.5 1337.8 559.1C1340.8 560.6 1343.7 562.3 1346.5 564.0C1349.3 565.8 1352.1 567.6 1354.8 569.6C1357.5 571.5 1360.2 573.5 1362.8 575.6C1365.4 577.7 1368.0 579.8 1370.5 582.0C1373.0 584.1 1375.5 586.4 1378.0 588.6C1380.4 590.9 1382.9 593.2 1385.3 595.5C1387.7 597.8 1390.0 600.1 1392.4 602.5C1394.7 604.9 1397.1 607.3 1399.4 609.7C1401.7 612.1 1404.0 614.5 1406.2 617.0C1408.5 619.4 1410.7 621.9 1412.9 624.4C1415.2 626.8 1417.4 629.4 1419.5 631.9C1421.7 634.4 1423.9 636.9 1426.1 639.5C1428.2 642.0 1430.4 644.6 1432.5 647.1C1434.6 649.7 1436.7 652.3 1438.8 654.8C1441.0 657.4 1443.1 660.0 1445.2 662.6C1447.3 665.2 1449.4 667.8 1451.4 670.4C1453.5 673.0 1455.6 675.6 1457.7 678.2C1459.8 680.8 1461.9 683.4 1464.0 686.0C1466.1 688.6 1468.2 691.2 1470.3 693.8C1472.4 696.3 1474.5 698.9 1476.6 701.5C1478.7 704.1 1480.8 706.7 1482.9 709.3C1485.0 711.9 1487.1 714.5 1489.2 717.0C1491.3 719.6 1493.4 722.2 1495.5 724.8C1497.6 727.4 1499.7 730.0 1501.8 732.5C1503.9 735.1 1506.0 737.7 1508.1 740.3C1510.2 742.9 1512.3 745.5 1514.4 748.1C1516.5 750.7 1518.6 753.2 1520.7 755.8C1522.8 758.4 1524.9 761.0 1527.0 763.6C1529.1 766.2 1531.2 768.8 1533.3 771.4C1535.4 774.0 1537.4 776.6 1539.5 779.2C1541.6 781.8 1543.7 784.5 1545.7 787.1C1547.8 789.7 1549.9 792.3 1551.9 794.9C1554.0 797.6 1556.0 800.2 1558.1 802.8C1560.1 805.5 1562.1 808.1 1564.2 810.7C1566.2 813.4 1568.2 816.0 1570.3 818.7C1572.3 821.3 1574.3 824.0 1576.4 826.6C1578.4 829.3 1580.4 831.9 1582.4 834.5C1584.5 837.2 1586.5 839.8 1588.5 842.5C1590.6 845.1 1592.6 847.8 1594.6 850.4C1596.7 853.0 1598.7 855.7 1600.8 858.3C1602.8 860.9 1604.9 863.6 1606.9 866.2C1609.0 868.8 1611.0 871.4 1613.1 874.1C1615.2 876.7 1617.2 879.3 1619.3 881.9C1621.4 884.5 1623.5 887.1 1625.5 889.7C1627.6 892.3 1629.7 894.9 1631.8 897.5C1633.9 900.1 1636.0 902.7 1638.1 905.3C1640.2 907.9 1642.3 910.4 1644.4 913.0C1646.6 915.6 1648.7 918.2 1650.8 920.7C1652.9 923.3 1655.1 925.9 1657.2 928.4C1659.4 931.0 1661.5 933.5 1663.7 936.1C1665.8 938.6 1668.0 941.1 1670.1 943.7C1672.3 946.2 1674.5 948.7 1676.7 951.3C1678.8 953.8 1681.0 956.3 1683.2 958.8C1685.4 961.3 1687.6 963.8 1689.8 966.4C1692.0 968.9 1694.2 971.4 1696.4 973.8C1698.6 976.3 1700.9 978.8 1703.1 981.3C1705.3 983.8 1707.6 986.3 1709.8 988.7C1712.0 991.2 1714.3 993.7 1716.5 996.1C1718.8 998.6 1721.0 1001.0 1723.3 1003.5C1725.6 1005.9 1727.9 1008.3 1730.1 1010.8C1732.4 1013.2 1734.7 1015.6 1737.0 1018.1C1739.3 1020.5 1741.6 1022.9 1743.9 1025.3C1746.2 1027.7 1748.5 1030.1 1750.8 1032.5C1753.2 1034.9 1755.5 1037.3 1757.8 1039.7C1760.2 1042.0 1762.5 1044.4 1764.8 1046.8C1767.2 1049.2 1769.5 1051.5 1771.9 1053.9C1774.3 1056.2 1776.6 1058.6 1779.0 1060.9C1781.4 1063.3 1783.8 1065.6 1786.1 1067.9C1788.5 1070.2 1790.9 1072.6 1793.3 1074.9C1795.7 1077.2 1798.1 1079.5 1800.5 1081.8C1803.0 1084.1 1805.4 1086.4 1807.8 1088.7C1810.2 1091.0 1812.7 1093.2 1815.1 1095.5C1817.6 1097.8 1820.0 1100.0 1822.5 1102.3C1824.9 1104.5 1827.4 1106.8 1829.9 1109.0C1832.3 1111.3 1834.8 1113.5 1837.3 1115.7C1839.8 1117.9 1842.3 1120.2 1844.8 1122.4C1847.3 1124.6 1849.8 1126.8 1852.3 1129.0C1854.8 1131.2 1857.3 1133.3 1859.8 1135.5C1862.4 1137.7 1864.9 1139.9 1867.4 1142.0C1870.0 1144.2 1872.5 1146.3 1875.1 1148.5C1877.6 1150.6 1880.2 1152.8 1882.7 1154.9C1885.3 1157.0 1887.9 1159.1 1890.5 1161.2C1893.0 1163.4 1895.6 1165.5 1898.2 1167.5C1900.8 1169.6 1903.4 1171.7 1906.0 1173.8C1908.7 1175.9 1911.3 1177.9 1913.9 1180.0C1916.5 1182.1 1919.1 1184.1 1921.8 1186.1C1924.4 1188.2 1927.1 1190.2 1929.7 1192.2C1932.4 1194.2 1935.0 1196.3 1937.7 1198.3C1940.4 1200.3 1943.0 1202.3 1945.7 1204.2C1948.4 1206.2 1951.1 1208.2 1953.8 1210.2C1956.5 1212.1 1959.2 1214.1 1961.9 1216.0C1964.6 1218.0 1967.3 1219.9 1970.0 1221.8C1972.7 1223.8 1975.5 1225.7 1978.2 1227.6C1980.9 1229.5 1983.7 1231.4 1986.4 1233.3C1989.2 1235.1 1991.9 1237.0 1994.7 1238.9C1997.5 1240.7 2000.2 1242.6 2003.0 1244.4C2005.8 1246.3 2008.6 1248.1 2011.4 1249.9C2014.2 1251.8 2017.0 1253.6 2019.8 1255.4C2022.6 1257.2 2025.4 1259.0 2028.2 1260.7C2031.0 1262.5 2033.9 1264.3 2036.7 1266.0C2039.5 1267.8 2042.4 1269.5 2045.2 1271.3C2048.1 1273.0 2050.9 1274.7 2053.8 1276.5C2056.6 1278.2 2059.5 1279.9 2062.4 1281.6C2065.3 1283.2 2068.1 1284.9 2071.0 1286.6C2073.9 1288.2 2076.8 1289.9 2079.7 1291.5C2082.6 1293.2 2085.5 1294.8 2088.4 1296.4C2091.4 1298.1 2094.3 1299.7 2097.2 1301.3C2100.1 1302.8 2103.1 1304.4 2106.0 1306.0C2108.9 1307.6 2111.9 1309.1 2114.8 1310.7C2117.8 1312.2 2120.8 1313.7 2123.7 1315.3C2126.7 1316.8 2129.7 1318.3 2132.7 1319.8C2135.6 1321.3 2138.6 1322.8 2141.6 1324.2C2144.6 1325.7 2147.6 1327.1 2150.6 1328.6C2153.6 1330.0 2156.6 1331.5 2159.7 1332.9C2162.7 1334.3 2165.7 1335.7 2168.7 1337.1C2171.8 1338.5 2174.8 1339.8 2177.8 1341.2C2180.9 1342.6 2183.9 1343.9 2187.0 1345.3C2190.0 1346.6 2193.1 1347.9 2196.2 1349.2C2199.2 1350.5 2202.3 1351.8 2205.4 1353.1C2208.5 1354.4 2211.6 1355.6 2214.6 1356.9C2217.7 1358.1 2220.8 1359.4 2223.9 1360.6C2227.0 1361.8 2230.1 1363.0 2233.3 1364.2C2236.4 1365.4 2239.5 1366.6 2242.6 1367.8C2245.7 1368.9 2250.4 1370.6 2252.0 1371.2" stroke="#c99800" stroke-width="9" stroke-dasharray="13 21.5"/>
<path d="M269.0 1475.5C270.5 1475.1 275.1 1473.7 278.2 1472.7C281.4 1471.7 284.6 1470.8 287.8 1469.8C291.0 1468.8 294.2 1467.8 297.4 1466.8C300.6 1465.8 303.8 1464.8 307.0 1463.8C310.1 1462.8 313.3 1461.7 316.5 1460.7C319.7 1459.6 322.8 1458.6 326.0 1457.5C329.2 1456.4 332.3 1455.4 335.5 1454.3C338.6 1453.2 341.8 1452.1 344.9 1451.0C348.1 1449.8 351.2 1448.7 354.4 1447.6C357.5 1446.4 360.7 1445.3 363.8 1444.1C366.9 1443.0 370.1 1441.8 373.2 1440.6C376.3 1439.4 379.4 1438.3 382.5 1437.1C385.7 1435.9 388.8 1434.6 391.9 1433.4C395.0 1432.2 398.1 1431.0 401.2 1429.7C404.3 1428.5 407.4 1427.2 410.5 1426.0C413.6 1424.7 416.7 1423.4 419.8 1422.1C422.8 1420.9 425.9 1419.6 429.0 1418.3C432.1 1416.9 435.1 1415.6 438.2 1414.3C441.3 1413.0 444.3 1411.6 447.4 1410.3C450.5 1409.0 453.5 1407.6 456.6 1406.2C459.6 1404.9 462.7 1403.5 465.7 1402.1C468.7 1400.8 471.8 1399.4 474.8 1398.0C477.9 1396.6 480.9 1395.2 483.9 1393.8C486.9 1392.4 490.0 1390.9 493.0 1389.5C496.0 1388.1 499.0 1386.7 502.1 1385.2C505.1 1383.8 508.1 1382.3 511.1 1380.9C514.1 1379.4 517.1 1378.0 520.1 1376.5C523.1 1375.1 526.1 1373.6 529.1 1372.1C532.1 1370.7 535.1 1369.2 538.1 1367.7C541.1 1366.2 544.1 1364.7 547.1 1363.3C550.1 1361.8 553.1 1360.3 556.1 1358.8C559.1 1357.3 562.0 1355.8 565.0 1354.3C568.0 1352.8 571.0 1351.3 574.0 1349.8C577.0 1348.3 579.9 1346.8 582.9 1345.3C585.9 1343.7 588.9 1342.2 591.9 1340.7C594.8 1339.2 597.8 1337.7 600.8 1336.1C603.7 1334.6 606.7 1333.1 609.7 1331.5C612.6 1330.0 615.6 1328.4 618.5 1326.8C621.5 1325.2 624.4 1323.7 627.3 1322.1C630.3 1320.5 633.2 1318.9 636.1 1317.2C639.0 1315.6 642.0 1314.0 644.9 1312.3C647.8 1310.6 650.6 1309.0 653.5 1307.3C656.4 1305.6 659.3 1303.9 662.1 1302.1C665.0 1300.4 667.8 1298.7 670.7 1296.9C673.5 1295.1 676.3 1293.3 679.1 1291.5C681.9 1289.7 684.7 1287.8 687.5 1285.9C690.2 1284.1 693.0 1282.2 695.7 1280.3C698.4 1278.3 701.2 1276.4 703.8 1274.4C706.5 1272.4 709.2 1270.4 711.9 1268.4C714.5 1266.3 717.1 1264.3 719.7 1262.2C722.3 1260.1 724.9 1258.0 727.5 1255.8C730.0 1253.7 732.6 1251.5 735.1 1249.3C737.7 1247.2 740.2 1245.0 742.8 1242.9C745.3 1240.7 747.9 1238.6 750.5 1236.5C753.1 1234.4 755.7 1232.3 758.4 1230.3C761.0 1228.3 763.7 1226.3 766.5 1224.4C769.2 1222.4 772.0 1220.5 774.7 1218.7C777.5 1216.8 780.3 1215.0 783.1 1213.1C785.8 1211.3 788.6 1209.4 791.4 1207.6C794.2 1205.8 797.0 1203.9 799.8 1202.0C802.5 1200.2 805.3 1198.3 808.0 1196.4C810.8 1194.5 813.5 1192.5 816.2 1190.6C818.9 1188.6 821.6 1186.6 824.3 1184.6C826.9 1182.6 829.5 1180.5 832.1 1178.4C834.7 1176.3 837.3 1174.2 839.8 1172.0C842.3 1169.8 844.8 1167.6 847.3 1165.3C849.7 1163.0 852.1 1160.6 854.4 1158.2C856.7 1155.8 859.0 1153.4 861.2 1150.9C863.4 1148.4 865.5 1145.8 867.6 1143.2C869.7 1140.5 871.6 1137.8 873.6 1135.1C875.5 1132.4 877.4 1129.6 879.2 1126.8C881.0 1124.0 882.8 1121.2 884.5 1118.3C886.3 1115.5 887.9 1112.6 889.6 1109.7C891.3 1106.8 892.9 1103.9 894.5 1101.0C896.1 1098.0 897.7 1095.1 899.3 1092.1C900.9 1089.2 902.4 1086.2 903.9 1083.2C905.4 1080.3 906.9 1077.3 908.4 1074.3C909.9 1071.3 911.3 1068.3 912.8 1065.3C914.2 1062.2 915.6 1059.2 917.0 1056.2C918.4 1053.1 919.8 1050.1 921.2 1047.1C922.5 1044.0 923.9 1041.0 925.2 1037.9C926.6 1034.8 927.9 1031.8 929.2 1028.7C930.5 1025.6 931.8 1022.5 933.1 1019.5C934.4 1016.4 935.7 1013.3 937.0 1010.2C938.2 1007.1 939.5 1004.0 940.8 1000.9C942.0 997.8 943.3 994.8 944.5 991.7C945.8 988.6 947.0 985.5 948.3 982.4C949.5 979.3 950.8 976.2 952.0 973.1C953.2 969.9 954.5 966.8 955.7 963.7C957.0 960.6 958.2 957.5 959.4 954.4C960.7 951.3 961.9 948.2 963.1 945.1C964.4 942.0 965.6 938.9 966.8 935.8C968.1 932.7 969.3 929.6 970.5 926.5C971.8 923.4 973.0 920.3 974.3 917.2C975.5 914.1 976.8 911.0 978.0 907.9C979.3 904.8 980.6 901.7 981.8 898.6C983.1 895.5 984.4 892.4 985.6 889.4C986.9 886.3 988.2 883.2 989.5 880.1C990.8 877.0 992.1 874.0 993.4 870.9C994.8 867.8 996.1 864.7 997.4 861.7C998.8 858.6 1000.1 855.6 1001.5 852.5C1002.8 849.5 1004.2 846.4 1005.6 843.4C1007.0 840.3 1008.3 837.3 1009.8 834.3C1011.2 831.2 1012.6 828.2 1014.0 825.2C1015.5 822.2 1016.9 819.2 1018.4 816.2C1019.8 813.2 1021.3 810.2 1022.8 807.2C1024.3 804.2 1025.8 801.2 1027.4 798.3C1028.9 795.3 1030.5 792.3 1032.0 789.4C1033.6 786.4 1035.2 783.5 1036.8 780.6C1038.4 777.6 1040.0 774.7 1041.7 771.8C1043.3 768.9 1045.0 766.0 1046.7 763.1C1048.4 760.2 1050.1 757.4 1051.8 754.5C1053.5 751.7 1055.3 748.8 1057.1 746.0C1058.9 743.2 1060.7 740.4 1062.5 737.6C1064.4 734.8 1066.2 732.0 1068.1 729.3C1070.0 726.5 1071.9 723.8 1073.9 721.1C1075.8 718.3 1077.8 715.6 1079.8 713.0C1081.8 710.3 1083.8 707.7 1085.9 705.0C1088.0 702.4 1090.1 699.8 1092.2 697.2C1094.3 694.7 1096.5 692.1 1098.7 689.6C1100.9 687.1 1103.1 684.6 1105.4 682.1C1107.6 679.6 1109.9 677.2 1112.2 674.8C1114.6 672.4 1116.9 670.1 1119.3 667.7C1121.7 665.4 1124.1 663.1 1126.6 660.8C1129.1 658.6 1131.6 656.4 1134.1 654.2C1136.6 652.0 1139.2 649.9 1141.8 647.8C1144.4 645.7 1147.0 643.6 1149.7 641.6C1152.4 639.6 1155.1 637.6 1157.8 635.7C1160.5 633.8 1163.3 631.9 1166.0 630.0C1168.8 628.1 1171.5 626.2 1174.3 624.3C1177.1 622.5 1179.9 620.6 1182.6 618.7C1185.4 616.8 1188.1 615.0 1190.9 613.0C1193.6 611.1 1196.3 609.2 1199.0 607.2C1201.7 605.2 1204.4 603.2 1207.1 601.2C1209.7 599.2 1212.4 597.2 1215.1 595.2C1217.7 593.2 1220.4 591.2 1223.1 589.2C1225.9 587.3 1228.6 585.4 1231.4 583.5C1234.2 581.7 1237.0 579.9 1239.9 578.3C1242.8 576.6 1245.7 575.0 1248.7 573.5C1251.7 572.0 1254.7 570.6 1257.8 569.3C1260.9 568.1 1264.1 566.9 1267.2 565.9C1270.4 565.0 1273.7 564.1 1277.0 563.5C1280.2 562.9 1283.6 562.4 1286.9 562.2C1290.2 562.0 1293.6 562.0 1296.9 562.2C1300.2 562.5 1303.6 562.9 1306.8 563.6C1310.1 564.2 1313.4 565.0 1316.6 566.0C1319.8 566.9 1322.9 568.1 1326.0 569.3C1329.1 570.5 1332.2 571.9 1335.2 573.3C1338.2 574.8 1341.2 576.3 1344.1 578.0C1347.0 579.6 1349.9 581.3 1352.7 583.1C1355.5 584.9 1358.2 586.8 1361.0 588.7C1363.7 590.7 1366.3 592.7 1369.0 594.8C1371.6 596.8 1374.2 599.0 1376.7 601.2C1379.2 603.3 1381.7 605.6 1384.2 607.8C1386.6 610.1 1389.1 612.4 1391.4 614.7C1393.8 617.1 1396.2 619.4 1398.5 621.8C1400.9 624.2 1403.2 626.6 1405.5 629.1C1407.8 631.5 1410.0 633.9 1412.3 636.4C1414.5 638.9 1416.8 641.3 1419.0 643.8C1421.3 646.3 1423.5 648.8 1425.7 651.3C1427.9 653.8 1430.2 656.3 1432.4 658.8C1434.6 661.3 1436.8 663.8 1439.0 666.3C1441.2 668.8 1443.4 671.3 1445.6 673.9C1447.7 676.4 1449.9 678.9 1452.1 681.5C1454.3 684.0 1456.4 686.5 1458.6 689.1C1460.8 691.6 1462.9 694.2 1465.1 696.7C1467.2 699.3 1469.4 701.9 1471.5 704.4C1473.6 707.0 1475.8 709.6 1477.9 712.1C1480.1 714.7 1482.2 717.3 1484.3 719.8C1486.4 722.4 1488.6 725.0 1490.7 727.6C1492.8 730.2 1494.9 732.8 1497.0 735.3C1499.1 737.9 1501.3 740.5 1503.4 743.1C1505.5 745.7 1507.6 748.3 1509.7 750.9C1511.8 753.5 1513.9 756.1 1516.0 758.7C1518.1 761.3 1520.2 763.9 1522.3 766.5C1524.4 769.1 1526.5 771.7 1528.6 774.3C1530.7 776.9 1532.8 779.5 1534.9 782.1C1536.9 784.7 1539.0 787.3 1541.1 789.9C1543.2 792.5 1545.3 795.1 1547.4 797.7C1549.5 800.3 1551.6 802.9 1553.7 805.6C1555.8 808.2 1557.8 810.8 1559.9 813.4C1562.0 816.0 1564.1 818.6 1566.2 821.2C1568.3 823.8 1570.4 826.4 1572.5 829.0C1574.6 831.6 1576.7 834.2 1578.8 836.8C1580.9 839.4 1583.0 842.0 1585.1 844.6C1587.2 847.2 1589.3 849.8 1591.4 852.4C1593.5 855.0 1595.6 857.6 1597.7 860.2C1599.8 862.8 1601.9 865.4 1604.0 868.0C1606.1 870.5 1608.2 873.1 1610.4 875.7C1612.5 878.3 1614.6 880.9 1616.7 883.5C1618.8 886.0 1621.0 888.6 1623.1 891.2C1625.2 893.8 1627.4 896.3 1629.5 898.9C1631.7 901.5 1633.8 904.0 1635.9 906.6C1638.1 909.1 1640.2 911.7 1642.4 914.2C1644.6 916.8 1646.7 919.3 1648.9 921.9C1651.1 924.4 1653.2 927.0 1655.4 929.5C1657.6 932.0 1659.8 934.6 1661.9 937.1C1664.1 939.6 1666.3 942.1 1668.5 944.7C1670.7 947.2 1672.9 949.7 1675.1 952.2C1677.3 954.7 1679.6 957.2 1681.8 959.7C1684.0 962.2 1686.2 964.7 1688.5 967.2C1690.7 969.7 1692.9 972.1 1695.2 974.6C1697.4 977.1 1699.7 979.6 1701.9 982.0C1704.2 984.5 1706.4 987.0 1708.7 989.4C1710.9 991.9 1713.2 994.3 1715.5 996.8C1717.8 999.2 1720.1 1001.7 1722.3 1004.1C1724.6 1006.5 1726.9 1009.0 1729.2 1011.4C1731.5 1013.8 1733.8 1016.2 1736.1 1018.6C1738.5 1021.0 1740.8 1023.4 1743.1 1025.8C1745.4 1028.2 1747.7 1030.6 1750.1 1033.0C1752.4 1035.4 1754.8 1037.8 1757.1 1040.2C1759.5 1042.6 1761.8 1044.9 1764.2 1047.3C1766.5 1049.7 1768.9 1052.0 1771.3 1054.4C1773.6 1056.7 1776.0 1059.1 1778.4 1061.4C1780.8 1063.7 1783.2 1066.1 1785.6 1068.4C1788.0 1070.7 1790.4 1073.0 1792.8 1075.4C1795.2 1077.7 1797.6 1080.0 1800.0 1082.3C1802.5 1084.6 1804.9 1086.9 1807.3 1089.2C1809.8 1091.4 1812.2 1093.7 1814.7 1096.0C1817.1 1098.3 1819.6 1100.5 1822.0 1102.8C1824.5 1105.0 1827.0 1107.3 1829.4 1109.5C1831.9 1111.8 1834.4 1114.0 1836.9 1116.2C1839.4 1118.5 1841.9 1120.7 1844.4 1122.9C1846.9 1125.1 1849.4 1127.3 1851.9 1129.5C1854.4 1131.7 1856.9 1133.9 1859.5 1136.1C1862.0 1138.3 1864.5 1140.5 1867.1 1142.6C1869.6 1144.8 1872.2 1147.0 1874.7 1149.1C1877.3 1151.3 1879.8 1153.4 1882.4 1155.5C1885.0 1157.7 1887.6 1159.8 1890.2 1161.9C1892.7 1164.0 1895.3 1166.1 1897.9 1168.2C1900.5 1170.3 1903.1 1172.4 1905.7 1174.5C1908.3 1176.6 1911.0 1178.7 1913.6 1180.7C1916.2 1182.8 1918.8 1184.9 1921.5 1186.9C1924.1 1189.0 1926.8 1191.0 1929.4 1193.0C1932.1 1195.1 1934.7 1197.1 1937.4 1199.1C1940.1 1201.1 1942.8 1203.1 1945.4 1205.1C1948.1 1207.1 1950.8 1209.1 1953.5 1211.0C1956.2 1213.0 1958.9 1215.0 1961.6 1216.9C1964.3 1218.9 1967.0 1220.8 1969.8 1222.8C1972.5 1224.7 1975.2 1226.6 1978.0 1228.5C1980.7 1230.5 1983.4 1232.4 1986.2 1234.3C1988.9 1236.2 1991.7 1238.0 1994.5 1239.9C1997.2 1241.8 2000.0 1243.6 2002.8 1245.5C2005.6 1247.4 2008.4 1249.2 2011.1 1251.0C2013.9 1252.9 2016.7 1254.7 2019.5 1256.5C2022.4 1258.3 2025.2 1260.1 2028.0 1261.9C2030.8 1263.7 2033.6 1265.4 2036.5 1267.2C2039.3 1269.0 2042.2 1270.7 2045.0 1272.5C2047.9 1274.2 2050.7 1275.9 2053.6 1277.7C2056.5 1279.4 2059.3 1281.1 2062.2 1282.8C2065.1 1284.5 2068.0 1286.2 2070.9 1287.8C2073.8 1289.5 2076.7 1291.2 2079.6 1292.8C2082.5 1294.5 2085.4 1296.1 2088.3 1297.7C2091.2 1299.4 2094.1 1301.0 2097.1 1302.6C2100.0 1304.2 2102.9 1305.8 2105.9 1307.3C2108.8 1308.9 2111.8 1310.5 2114.8 1312.0C2117.7 1313.6 2120.7 1315.1 2123.7 1316.6C2126.6 1318.1 2129.6 1319.7 2132.6 1321.2C2135.6 1322.7 2138.6 1324.1 2141.6 1325.6C2144.6 1327.1 2147.6 1328.5 2150.6 1330.0C2153.6 1331.4 2156.6 1332.9 2159.6 1334.3C2162.7 1335.7 2165.7 1337.1 2168.7 1338.5C2171.8 1339.9 2174.8 1341.3 2177.9 1342.6C2180.9 1344.0 2184.0 1345.3 2187.0 1346.7C2190.1 1348.0 2193.2 1349.3 2196.2 1350.6C2199.3 1352.0 2202.4 1353.2 2205.5 1354.5C2208.6 1355.8 2211.7 1357.1 2214.8 1358.3C2217.9 1359.6 2221.0 1360.8 2224.1 1362.0C2227.2 1363.3 2230.3 1364.5 2233.4 1365.7C2236.5 1366.9 2239.7 1368.0 2242.8 1369.2C2245.9 1370.4 2250.5 1372.1 2252.0 1372.7" stroke="#00c8cc" stroke-width="9" stroke-dasharray="1 14.4"/>
<path d="M269.0 1476.1C270.5 1475.5 275.1 1473.7 278.3 1472.5C281.4 1471.4 284.5 1470.2 287.7 1469.1C290.8 1468.0 294.0 1466.9 297.2 1465.9C300.3 1464.8 303.5 1463.7 306.7 1462.7C309.9 1461.7 313.0 1460.6 316.2 1459.6C319.4 1458.6 322.6 1457.6 325.8 1456.6C329.0 1455.5 332.1 1454.5 335.3 1453.5C338.5 1452.5 341.7 1451.5 344.9 1450.5C348.1 1449.5 351.3 1448.5 354.4 1447.4C357.6 1446.4 360.8 1445.4 364.0 1444.3C367.1 1443.3 370.3 1442.2 373.5 1441.1C376.6 1440.0 379.8 1438.9 382.9 1437.8C386.1 1436.7 389.2 1435.5 392.3 1434.3C395.5 1433.1 398.6 1431.9 401.7 1430.7C404.8 1429.5 407.9 1428.2 411.0 1426.9C414.1 1425.7 417.1 1424.4 420.2 1423.0C423.3 1421.7 426.3 1420.4 429.4 1419.0C432.5 1417.7 435.5 1416.3 438.5 1414.9C441.6 1413.5 444.6 1412.1 447.6 1410.7C450.7 1409.3 453.7 1407.9 456.7 1406.4C459.7 1405.0 462.7 1403.5 465.7 1402.1C468.8 1400.6 471.8 1399.2 474.8 1397.7C477.8 1396.2 480.8 1394.7 483.8 1393.3C486.8 1391.8 489.7 1390.3 492.7 1388.8C495.7 1387.3 498.7 1385.9 501.7 1384.4C504.7 1382.9 507.7 1381.4 510.7 1379.9C513.7 1378.5 516.7 1377.0 519.7 1375.5C522.7 1374.1 525.7 1372.6 528.7 1371.1C531.7 1369.7 534.8 1368.2 537.8 1366.8C540.8 1365.4 543.8 1363.9 546.8 1362.5C549.9 1361.1 552.9 1359.6 555.9 1358.2C558.9 1356.8 561.9 1355.4 565.0 1353.9C568.0 1352.5 571.0 1351.1 574.0 1349.7C577.1 1348.2 580.1 1346.8 583.1 1345.3C586.1 1343.9 589.1 1342.5 592.1 1341.0C595.1 1339.5 598.1 1338.1 601.1 1336.6C604.1 1335.1 607.1 1333.6 610.1 1332.1C613.1 1330.6 616.1 1329.1 619.0 1327.5C622.0 1326.0 624.9 1324.4 627.9 1322.9C630.8 1321.3 633.8 1319.7 636.7 1318.1C639.6 1316.4 642.5 1314.8 645.4 1313.1C648.3 1311.5 651.2 1309.8 654.1 1308.1C656.9 1306.4 659.8 1304.6 662.6 1302.8C665.5 1301.1 668.3 1299.3 671.1 1297.4C673.9 1295.6 676.6 1293.7 679.4 1291.9C682.2 1290.0 684.9 1288.1 687.6 1286.1C690.4 1284.2 693.1 1282.2 695.8 1280.3C698.5 1278.3 701.1 1276.3 703.8 1274.3C706.5 1272.2 709.1 1270.2 711.7 1268.1C714.4 1266.1 717.0 1264.0 719.6 1261.9C722.2 1259.8 724.8 1257.7 727.4 1255.6C729.9 1253.5 732.5 1251.3 735.1 1249.1C737.6 1247.0 740.1 1244.8 742.6 1242.5C745.1 1240.3 747.5 1238.0 749.9 1235.7C752.4 1233.4 754.7 1231.1 757.1 1228.7C759.4 1226.3 761.7 1223.8 763.9 1221.3C766.2 1218.9 768.3 1216.3 770.5 1213.8C772.6 1211.2 774.7 1208.6 776.8 1205.9C778.8 1203.3 780.8 1200.6 782.8 1197.9C784.7 1195.2 786.6 1192.5 788.5 1189.7C790.4 1186.9 792.2 1184.1 794.0 1181.3C795.8 1178.5 797.5 1175.6 799.3 1172.8C801.0 1169.9 802.6 1167.0 804.3 1164.1C805.9 1161.2 807.5 1158.2 809.1 1155.3C810.7 1152.3 812.2 1149.4 813.7 1146.4C815.2 1143.4 816.7 1140.4 818.1 1137.4C819.6 1134.4 821.0 1131.4 822.4 1128.3C823.8 1125.3 825.2 1122.3 826.6 1119.2C827.9 1116.2 829.3 1113.1 830.6 1110.0C831.9 1106.9 833.2 1103.9 834.5 1100.8C835.8 1097.7 837.0 1094.6 838.3 1091.5C839.5 1088.4 840.8 1085.3 842.0 1082.2C843.3 1079.1 844.5 1076.0 845.7 1072.9C846.9 1069.8 848.1 1066.6 849.3 1063.5C850.5 1060.4 851.7 1057.3 852.9 1054.2C854.1 1051.0 855.3 1047.9 856.5 1044.8C857.6 1041.7 858.8 1038.5 860.0 1035.4C861.1 1032.3 862.3 1029.1 863.4 1026.0C864.6 1022.8 865.7 1019.7 866.8 1016.6C868.0 1013.4 869.1 1010.3 870.2 1007.1C871.3 1004.0 872.4 1000.8 873.5 997.7C874.6 994.5 875.7 991.3 876.8 988.2C877.9 985.0 879.0 981.9 880.1 978.7C881.2 975.5 882.3 972.4 883.3 969.2C884.4 966.0 885.5 962.9 886.5 959.7C887.6 956.5 888.6 953.4 889.7 950.2C890.7 947.0 891.8 943.8 892.8 940.7C893.8 937.5 894.9 934.3 895.9 931.1C896.9 928.0 897.9 924.8 899.0 921.6C900.0 918.4 901.0 915.2 902.0 912.0C903.0 908.8 904.0 905.7 905.0 902.5C906.0 899.3 907.0 896.1 908.0 892.9C909.0 889.7 910.0 886.5 910.9 883.3C911.9 880.1 912.9 876.9 913.9 873.7C914.8 870.5 915.8 867.3 916.8 864.1C917.7 860.9 918.7 857.7 919.7 854.5C920.6 851.3 921.6 848.1 922.5 844.9C923.5 841.7 924.4 838.5 925.4 835.3C926.3 832.1 927.3 828.9 928.2 825.7C929.2 822.5 930.1 819.3 931.0 816.1C932.0 812.9 932.9 809.6 933.8 806.4C934.8 803.2 935.7 800.0 936.6 796.8C937.6 793.6 938.5 790.4 939.4 787.2C940.4 784.0 941.3 780.8 942.3 777.6C943.2 774.4 944.1 771.1 945.1 767.9C946.0 764.7 946.9 761.5 947.9 758.3C948.8 755.1 949.8 751.9 950.7 748.7C951.7 745.5 952.6 742.3 953.6 739.1C954.5 735.9 955.5 732.7 956.4 729.5C957.4 726.3 958.3 723.1 959.3 719.9C960.3 716.7 961.2 713.5 962.2 710.3C963.2 707.1 964.2 703.9 965.2 700.7C966.1 697.5 967.1 694.3 968.1 691.1C969.1 687.9 970.1 684.7 971.1 681.5C972.1 678.4 973.2 675.2 974.2 672.0C975.2 668.8 976.2 665.6 977.3 662.5C978.3 659.3 979.4 656.1 980.4 652.9C981.5 649.8 982.5 646.6 983.6 643.4C984.7 640.3 985.8 637.1 986.9 633.9C988.0 630.8 989.1 627.6 990.2 624.5C991.3 621.3 992.4 618.2 993.6 615.1C994.7 611.9 995.9 608.8 997.0 605.6C998.2 602.5 999.4 599.4 1000.6 596.3C1001.8 593.2 1003.0 590.0 1004.3 586.9C1005.5 583.8 1006.7 580.7 1008.0 577.6C1009.3 574.5 1010.6 571.5 1011.9 568.4C1013.2 565.3 1014.5 562.2 1015.8 559.2C1017.2 556.1 1018.5 553.1 1019.9 550.0C1021.3 547.0 1022.7 543.9 1024.1 540.9C1025.5 537.9 1027.0 534.9 1028.5 531.9C1029.9 528.9 1031.4 525.9 1032.9 522.9C1034.4 519.9 1036.0 516.9 1037.5 514.0C1039.1 511.0 1040.7 508.1 1042.3 505.2C1043.9 502.2 1045.5 499.3 1047.1 496.4C1048.8 493.5 1050.5 490.6 1052.2 487.7C1053.9 484.9 1055.6 482.0 1057.4 479.2C1059.2 476.3 1061.0 473.5 1062.8 470.7C1064.7 468.0 1066.6 465.2 1068.5 462.5C1070.5 459.8 1072.5 457.1 1074.5 454.5C1076.6 451.8 1078.7 449.2 1080.8 446.7C1083.0 444.1 1085.2 441.6 1087.5 439.2C1089.8 436.8 1092.2 434.4 1094.6 432.1C1097.0 429.8 1099.5 427.6 1102.1 425.5C1104.7 423.3 1107.3 421.3 1110.0 419.3C1112.7 417.3 1115.5 415.4 1118.2 413.5C1121.0 411.7 1123.8 409.9 1126.6 408.1C1129.4 406.3 1132.3 404.5 1135.1 402.7C1138.0 401.0 1140.8 399.2 1143.7 397.5C1146.5 395.7 1149.3 393.9 1152.1 392.1C1154.9 390.3 1157.7 388.4 1160.4 386.5C1163.2 384.6 1165.9 382.6 1168.5 380.6C1171.2 378.6 1173.8 376.4 1176.3 374.2C1178.8 372.1 1181.2 369.8 1183.6 367.4C1186.0 365.1 1188.4 362.7 1190.7 360.3C1193.0 357.9 1195.3 355.4 1197.5 353.0C1199.8 350.5 1202.1 348.1 1204.4 345.7C1206.7 343.3 1209.0 340.9 1211.4 338.5C1213.8 336.2 1216.3 333.9 1218.8 331.7C1221.3 329.5 1223.9 327.4 1226.6 325.4C1229.3 323.4 1232.1 321.6 1235.0 319.9C1237.9 318.3 1240.9 316.8 1244.0 315.5C1247.0 314.2 1250.2 313.2 1253.5 312.4C1256.7 311.5 1260.0 310.9 1263.3 310.4C1266.6 310.0 1270.0 309.7 1273.3 309.7C1276.6 309.6 1280.0 309.8 1283.3 310.1C1286.6 310.4 1289.9 311.0 1293.2 311.8C1296.4 312.5 1299.7 313.5 1302.8 314.7C1305.9 315.8 1309.0 317.2 1311.9 318.7C1314.9 320.3 1317.8 322.0 1320.6 323.8C1323.4 325.7 1326.1 327.6 1328.7 329.7C1331.3 331.8 1333.9 333.9 1336.3 336.2C1338.8 338.4 1341.2 340.7 1343.6 343.1C1345.9 345.5 1348.2 347.9 1350.5 350.4C1352.8 352.8 1355.0 355.3 1357.2 357.9C1359.3 360.4 1361.5 362.9 1363.6 365.5C1365.8 368.1 1367.9 370.7 1370.0 373.3C1372.1 375.9 1374.2 378.5 1376.2 381.1C1378.3 383.7 1380.4 386.4 1382.4 389.0C1384.4 391.7 1386.5 394.3 1388.5 397.0C1390.5 399.7 1392.5 402.3 1394.5 405.0C1396.4 407.7 1398.4 410.4 1400.4 413.1C1402.3 415.9 1404.3 418.6 1406.2 421.3C1408.1 424.0 1410.0 426.8 1411.9 429.5C1413.9 432.3 1415.8 435.0 1417.6 437.8C1419.5 440.5 1421.4 443.3 1423.3 446.0C1425.2 448.8 1427.0 451.6 1428.9 454.4C1430.7 457.1 1432.6 459.9 1434.4 462.7C1436.3 465.5 1438.1 468.3 1439.9 471.1C1441.8 473.9 1443.6 476.7 1445.4 479.5C1447.2 482.3 1449.0 485.1 1450.8 487.9C1452.6 490.8 1454.4 493.6 1456.2 496.4C1458.0 499.2 1459.8 502.1 1461.5 504.9C1463.3 507.7 1465.1 510.5 1466.9 513.4C1468.6 516.2 1470.4 519.1 1472.2 521.9C1473.9 524.7 1475.7 527.6 1477.4 530.4C1479.2 533.3 1480.9 536.1 1482.7 539.0C1484.4 541.8 1486.2 544.7 1487.9 547.5C1489.7 550.4 1491.4 553.2 1493.2 556.1C1494.9 558.9 1496.6 561.8 1498.4 564.6C1500.1 567.5 1501.8 570.3 1503.6 573.2C1505.3 576.1 1507.0 578.9 1508.8 581.8C1510.5 584.6 1512.2 587.5 1514.0 590.3C1515.7 593.2 1517.4 596.1 1519.2 598.9C1520.9 601.8 1522.6 604.6 1524.4 607.5C1526.1 610.3 1527.8 613.2 1529.6 616.1C1531.3 618.9 1533.1 621.8 1534.8 624.6C1536.5 627.5 1538.3 630.3 1540.0 633.2C1541.8 636.0 1543.5 638.9 1545.2 641.7C1547.0 644.6 1548.7 647.4 1550.5 650.3C1552.2 653.1 1554.0 656.0 1555.7 658.8C1557.5 661.7 1559.2 664.5 1561.0 667.4C1562.7 670.2 1564.5 673.1 1566.2 675.9C1568.0 678.8 1569.7 681.6 1571.5 684.4C1573.3 687.3 1575.0 690.1 1576.8 693.0C1578.6 695.8 1580.3 698.6 1582.1 701.5C1583.9 704.3 1585.6 707.1 1587.4 710.0C1589.2 712.8 1591.0 715.6 1592.7 718.5C1594.5 721.3 1596.3 724.1 1598.1 726.9C1599.9 729.8 1601.7 732.6 1603.5 735.4C1605.2 738.2 1607.0 741.1 1608.8 743.9C1610.6 746.7 1612.4 749.5 1614.2 752.3C1616.1 755.1 1617.9 757.9 1619.7 760.7C1621.5 763.6 1623.3 766.4 1625.1 769.2C1626.9 772.0 1628.8 774.8 1630.6 777.6C1632.4 780.4 1634.3 783.2 1636.1 785.9C1637.9 788.7 1639.8 791.5 1641.6 794.3C1643.5 797.1 1645.3 799.9 1647.2 802.7C1649.0 805.4 1650.9 808.2 1652.7 811.0C1654.6 813.8 1656.5 816.5 1658.3 819.3C1660.2 822.1 1662.1 824.9 1664.0 827.6C1665.8 830.4 1667.7 833.1 1669.6 835.9C1671.5 838.6 1673.4 841.4 1675.3 844.1C1677.2 846.9 1679.1 849.6 1681.0 852.4C1682.9 855.1 1684.9 857.9 1686.8 860.6C1688.7 863.3 1690.6 866.1 1692.6 868.8C1694.5 871.5 1696.5 874.2 1698.4 876.9C1700.3 879.7 1702.3 882.4 1704.3 885.1C1706.2 887.8 1708.2 890.5 1710.1 893.2C1712.1 895.9 1714.1 898.6 1716.1 901.3C1718.1 904.0 1720.0 906.7 1722.0 909.3C1724.0 912.0 1726.0 914.7 1728.0 917.4C1730.1 920.0 1732.1 922.7 1734.1 925.4C1736.1 928.0 1738.1 930.7 1740.2 933.3C1742.2 936.0 1744.3 938.6 1746.3 941.3C1748.3 943.9 1750.4 946.5 1752.5 949.2C1754.5 951.8 1756.6 954.4 1758.7 957.1C1760.7 959.7 1762.8 962.3 1764.9 964.9C1767.0 967.5 1769.1 970.1 1771.2 972.7C1773.3 975.3 1775.4 977.9 1777.5 980.5C1779.6 983.1 1781.8 985.7 1783.9 988.2C1786.0 990.8 1788.2 993.4 1790.3 995.9C1792.5 998.5 1794.6 1001.1 1796.8 1003.6C1798.9 1006.2 1801.1 1008.7 1803.3 1011.2C1805.4 1013.8 1807.6 1016.3 1809.8 1018.8C1812.0 1021.4 1814.2 1023.9 1816.4 1026.4C1818.6 1028.9 1820.8 1031.4 1823.0 1033.9C1825.3 1036.4 1827.5 1038.9 1829.7 1041.4C1832.0 1043.9 1834.2 1046.3 1836.5 1048.8C1838.7 1051.3 1841.0 1053.7 1843.2 1056.2C1845.5 1058.7 1847.8 1061.1 1850.0 1063.6C1852.3 1066.0 1854.6 1068.4 1856.9 1070.9C1859.2 1073.3 1861.5 1075.7 1863.8 1078.1C1866.2 1080.5 1868.5 1082.9 1870.8 1085.3C1873.1 1087.7 1875.5 1090.1 1877.8 1092.5C1880.2 1094.9 1882.5 1097.2 1884.9 1099.6C1887.3 1102.0 1889.6 1104.3 1892.0 1106.7C1894.4 1109.0 1896.8 1111.3 1899.2 1113.7C1901.6 1116.0 1904.0 1118.3 1906.4 1120.6C1908.8 1122.9 1911.2 1125.3 1913.6 1127.5C1916.1 1129.8 1918.5 1132.1 1921.0 1134.4C1923.4 1136.7 1925.9 1138.9 1928.3 1141.2C1930.8 1143.5 1933.3 1145.7 1935.7 1148.0C1938.2 1150.2 1940.7 1152.4 1943.2 1154.6C1945.7 1156.9 1948.2 1159.1 1950.7 1161.3C1953.3 1163.5 1955.8 1165.7 1958.3 1167.8C1960.8 1170.0 1963.4 1172.2 1965.9 1174.4C1968.5 1176.5 1971.0 1178.7 1973.6 1180.8C1976.2 1182.9 1978.7 1185.1 1981.3 1187.2C1983.9 1189.3 1986.5 1191.4 1989.1 1193.5C1991.7 1195.6 1994.3 1197.7 1996.9 1199.8C1999.5 1201.9 2002.2 1203.9 2004.8 1206.0C2007.4 1208.1 2010.1 1210.1 2012.7 1212.2C2015.4 1214.2 2018.0 1216.2 2020.7 1218.2C2023.4 1220.3 2026.0 1222.3 2028.7 1224.3C2031.4 1226.3 2034.1 1228.2 2036.8 1230.2C2039.5 1232.2 2042.2 1234.2 2044.9 1236.1C2047.6 1238.1 2050.3 1240.0 2053.0 1241.9C2055.8 1243.9 2058.5 1245.8 2061.2 1247.7C2064.0 1249.6 2066.7 1251.5 2069.5 1253.4C2072.3 1255.3 2075.0 1257.2 2077.8 1259.0C2080.6 1260.9 2083.3 1262.8 2086.1 1264.6C2088.9 1266.5 2091.7 1268.3 2094.5 1270.1C2097.3 1271.9 2100.1 1273.7 2102.9 1275.5C2105.7 1277.3 2108.6 1279.1 2111.4 1280.9C2114.2 1282.7 2117.1 1284.5 2119.9 1286.2C2122.8 1288.0 2125.6 1289.7 2128.5 1291.5C2131.3 1293.2 2134.2 1294.9 2137.0 1296.6C2139.9 1298.3 2142.8 1300.0 2145.7 1301.7C2148.6 1303.4 2151.5 1305.1 2154.4 1306.8C2157.3 1308.4 2160.2 1310.1 2163.1 1311.7C2166.0 1313.4 2168.9 1315.0 2171.8 1316.6C2174.7 1318.2 2177.7 1319.8 2180.6 1321.4C2183.5 1323.0 2186.5 1324.6 2189.4 1326.2C2192.4 1327.8 2195.3 1329.3 2198.3 1330.9C2201.3 1332.4 2204.2 1333.9 2207.2 1335.5C2210.2 1337.0 2213.2 1338.5 2216.2 1340.0C2219.1 1341.5 2222.1 1343.0 2225.1 1344.5C2228.1 1345.9 2231.1 1347.4 2234.1 1348.9C2237.2 1350.3 2240.2 1351.8 2243.2 1353.2C2246.2 1354.6 2250.5 1356.7 2252.0 1357.4" stroke="#7a4c4c" stroke-width="10" stroke-dasharray="22 19 0.5 19"/>
<path d="M269.0 1476.1C270.5 1475.5 275.1 1473.7 278.2 1472.5C281.3 1471.4 284.5 1470.2 287.6 1469.1C290.8 1468.0 293.9 1466.9 297.1 1465.8C300.2 1464.8 303.4 1463.7 306.6 1462.7C309.7 1461.6 312.9 1460.6 316.1 1459.6C319.3 1458.6 322.4 1457.6 325.6 1456.6C328.8 1455.5 332.0 1454.6 335.2 1453.6C338.3 1452.6 341.5 1451.6 344.7 1450.5C347.9 1449.5 351.1 1448.5 354.2 1447.5C357.4 1446.5 360.6 1445.5 363.7 1444.4C366.9 1443.4 370.1 1442.3 373.2 1441.2C376.4 1440.2 379.5 1439.1 382.7 1438.0C385.8 1436.8 388.9 1435.7 392.1 1434.5C395.2 1433.3 398.3 1432.1 401.4 1430.9C404.5 1429.7 407.6 1428.4 410.7 1427.2C413.7 1425.9 416.8 1424.6 419.9 1423.3C422.9 1421.9 426.0 1420.6 429.0 1419.2C432.1 1417.9 435.1 1416.5 438.1 1415.1C441.2 1413.7 444.2 1412.3 447.2 1410.9C450.2 1409.5 453.2 1408.1 456.3 1406.6C459.3 1405.2 462.3 1403.7 465.3 1402.3C468.3 1400.8 471.3 1399.3 474.2 1397.9C477.2 1396.4 480.2 1394.9 483.2 1393.4C486.2 1392.0 489.2 1390.5 492.2 1389.0C495.2 1387.5 498.1 1386.0 501.1 1384.6C504.1 1383.1 507.1 1381.6 510.1 1380.1C513.1 1378.6 516.1 1377.2 519.1 1375.7C522.1 1374.2 525.1 1372.8 528.1 1371.3C531.1 1369.9 534.1 1368.5 537.1 1367.0C540.1 1365.6 543.1 1364.2 546.2 1362.8C549.2 1361.4 552.2 1359.9 555.2 1358.5C558.2 1357.1 561.3 1355.7 564.3 1354.3C567.3 1352.9 570.3 1351.5 573.3 1350.1C576.4 1348.6 579.4 1347.2 582.4 1345.8C585.4 1344.4 588.4 1342.9 591.4 1341.5C594.4 1340.0 597.4 1338.6 600.4 1337.1C603.4 1335.7 606.4 1334.2 609.4 1332.7C612.3 1331.2 615.3 1329.7 618.3 1328.1C621.2 1326.6 624.2 1325.1 627.1 1323.5C630.1 1321.9 633.0 1320.3 635.9 1318.7C638.8 1317.1 641.7 1315.5 644.6 1313.8C647.5 1312.1 650.4 1310.4 653.2 1308.7C656.1 1307.0 658.9 1305.2 661.7 1303.4C664.6 1301.6 667.4 1299.8 670.1 1298.0C672.9 1296.1 675.7 1294.2 678.4 1292.3C681.1 1290.4 683.9 1288.5 686.6 1286.6C689.3 1284.6 692.0 1282.7 694.6 1280.7C697.3 1278.7 700.0 1276.7 702.6 1274.7C705.3 1272.7 708.0 1270.6 710.6 1268.6C713.3 1266.6 715.9 1264.6 718.5 1262.5C721.2 1260.5 723.8 1258.5 726.5 1256.4C729.1 1254.4 731.7 1252.3 734.4 1250.3C737.0 1248.3 739.6 1246.2 742.2 1244.1C744.9 1242.1 747.5 1240.0 750.1 1237.9C752.7 1235.8 755.2 1233.7 757.8 1231.6C760.4 1229.4 762.9 1227.3 765.4 1225.1C768.0 1222.9 770.5 1220.7 773.0 1218.5C775.5 1216.3 778.0 1214.1 780.5 1211.9C782.9 1209.7 785.4 1207.4 787.9 1205.2C790.3 1202.9 792.8 1200.7 795.2 1198.4C797.7 1196.2 800.2 1193.9 802.6 1191.7C805.1 1189.4 807.5 1187.1 810.0 1184.9C812.5 1182.7 814.9 1180.4 817.4 1178.2C819.9 1176.0 822.4 1173.8 824.9 1171.6C827.4 1169.4 830.0 1167.3 832.5 1165.0C835.0 1162.8 837.5 1160.7 839.9 1158.4C842.4 1156.1 844.7 1153.7 846.9 1151.2C849.1 1148.7 851.0 1146.0 852.9 1143.2C854.7 1140.4 856.3 1137.4 857.8 1134.5C859.4 1131.6 860.8 1128.6 862.3 1125.6C863.8 1122.6 865.3 1119.6 866.8 1116.6C868.3 1113.7 869.9 1110.7 871.5 1107.8C873.0 1104.8 874.6 1101.9 876.2 1098.9C877.7 1096.0 879.3 1093.0 880.8 1090.1C882.4 1087.1 883.9 1084.2 885.4 1081.2C886.9 1078.2 888.4 1075.2 889.8 1072.2C891.3 1069.2 892.8 1066.2 894.2 1063.2C895.6 1060.2 897.1 1057.2 898.5 1054.2C899.9 1051.2 901.2 1048.1 902.6 1045.1C904.0 1042.1 905.4 1039.0 906.7 1036.0C908.0 1032.9 909.4 1029.9 910.7 1026.8C912.0 1023.7 913.3 1020.7 914.6 1017.6C915.9 1014.5 917.2 1011.4 918.5 1008.4C919.7 1005.3 921.0 1002.2 922.2 999.1C923.5 996.0 924.7 992.9 926.0 989.8C927.2 986.7 928.4 983.6 929.6 980.5C930.8 977.4 932.0 974.3 933.2 971.2C934.4 968.1 935.6 964.9 936.8 961.8C938.0 958.7 939.1 955.6 940.3 952.5C941.5 949.3 942.6 946.2 943.8 943.1C945.0 940.0 946.1 936.8 947.3 933.7C948.4 930.6 949.6 927.4 950.7 924.3C951.9 921.2 953.0 918.1 954.1 914.9C955.3 911.8 956.4 908.7 957.6 905.5C958.7 902.4 959.8 899.3 961.0 896.1C962.1 893.0 963.2 889.8 964.4 886.7C965.5 883.6 966.7 880.4 967.8 877.3C968.9 874.2 970.1 871.1 971.2 867.9C972.4 864.8 973.5 861.7 974.7 858.5C975.8 855.4 977.0 852.3 978.2 849.2C979.3 846.0 980.5 842.9 981.7 839.8C982.8 836.7 984.0 833.5 985.2 830.4C986.4 827.3 987.6 824.2 988.8 821.1C990.0 818.0 991.2 814.9 992.4 811.8C993.6 808.7 994.8 805.6 996.1 802.5C997.3 799.4 998.5 796.3 999.8 793.2C1001.0 790.1 1002.3 787.0 1003.6 783.9C1004.9 780.8 1006.1 777.8 1007.4 774.7C1008.7 771.6 1010.1 768.6 1011.4 765.5C1012.7 762.4 1014.0 759.4 1015.4 756.3C1016.7 753.3 1018.1 750.2 1019.5 747.2C1020.9 744.2 1022.3 741.1 1023.7 738.1C1025.1 735.1 1026.5 732.1 1027.9 729.1C1029.4 726.1 1030.9 723.1 1032.3 720.1C1033.8 717.1 1035.3 714.1 1036.8 711.2C1038.4 708.2 1039.9 705.2 1041.5 702.3C1043.0 699.4 1044.6 696.4 1046.2 693.5C1047.8 690.6 1049.5 687.7 1051.1 684.8C1052.8 681.9 1054.5 679.0 1056.2 676.2C1057.9 673.3 1059.6 670.4 1061.4 667.6C1063.1 664.8 1064.9 662.0 1066.8 659.2C1068.6 656.4 1070.4 653.6 1072.3 650.8C1074.2 648.1 1076.1 645.3 1078.0 642.6C1079.9 639.9 1081.9 637.2 1083.9 634.6C1085.9 631.9 1087.9 629.2 1090.0 626.6C1092.1 624.0 1094.2 621.4 1096.3 618.9C1098.4 616.3 1100.6 613.8 1102.8 611.2C1105.0 608.7 1107.2 606.3 1109.5 603.8C1111.8 601.4 1114.1 599.0 1116.4 596.6C1118.7 594.2 1121.1 591.9 1123.5 589.6C1125.9 587.2 1128.4 585.0 1130.8 582.7C1133.3 580.5 1135.8 578.3 1138.3 576.1C1140.8 573.9 1143.4 571.7 1145.9 569.6C1148.5 567.5 1151.0 565.3 1153.6 563.2C1156.2 561.1 1158.8 559.0 1161.4 556.9C1164.0 554.8 1166.6 552.7 1169.2 550.6C1171.8 548.5 1174.4 546.5 1176.9 544.4C1179.5 542.3 1182.1 540.2 1184.7 538.0C1187.3 535.9 1189.9 533.8 1192.4 531.7C1195.0 529.5 1197.5 527.4 1200.0 525.2C1202.5 523.0 1205.0 520.8 1207.5 518.6C1210.0 516.3 1212.5 514.1 1215.0 511.9C1217.4 509.6 1219.9 507.4 1222.4 505.2C1224.9 503.0 1227.4 500.8 1230.0 498.7C1232.6 496.6 1235.2 494.5 1237.9 492.5C1240.5 490.5 1243.3 488.6 1246.1 486.8C1248.9 485.0 1251.7 483.3 1254.7 481.7C1257.7 480.2 1260.7 478.8 1263.8 477.6C1266.9 476.4 1270.1 475.3 1273.3 474.5C1276.5 473.8 1279.9 473.4 1283.2 473.2C1286.5 473.0 1289.9 473.2 1293.2 473.3C1296.5 473.3 1299.9 473.5 1303.2 473.5C1306.5 473.6 1309.9 473.4 1313.2 473.7C1316.5 473.9 1319.9 474.2 1323.1 475.0C1326.3 475.8 1329.5 477.0 1332.5 478.3C1335.5 479.7 1338.4 481.4 1341.3 483.2C1344.1 484.9 1346.8 486.8 1349.5 488.8C1352.2 490.8 1354.8 492.9 1357.3 495.1C1359.8 497.3 1362.3 499.5 1364.7 501.8C1367.2 504.1 1369.5 506.4 1371.9 508.8C1374.3 511.1 1376.6 513.5 1378.9 515.9C1381.3 518.3 1383.6 520.6 1385.9 523.0C1388.3 525.4 1390.6 527.7 1393.0 530.1C1395.3 532.5 1397.7 534.9 1400.0 537.3C1402.3 539.6 1404.6 542.0 1406.9 544.5C1409.2 546.9 1411.5 549.3 1413.8 551.7C1416.1 554.2 1418.3 556.6 1420.6 559.1C1422.8 561.5 1425.1 564.0 1427.3 566.5C1429.5 569.0 1431.7 571.5 1433.9 574.0C1436.1 576.5 1438.3 579.0 1440.5 581.5C1442.7 584.0 1444.9 586.6 1447.0 589.1C1449.2 591.6 1451.3 594.2 1453.5 596.8C1455.6 599.3 1457.7 601.9 1459.8 604.5C1462.0 607.0 1464.1 609.6 1466.2 612.2C1468.3 614.8 1470.4 617.4 1472.4 620.0C1474.5 622.6 1476.6 625.2 1478.7 627.8C1480.7 630.4 1482.8 633.1 1484.9 635.7C1486.9 638.3 1489.0 640.9 1491.0 643.6C1493.0 646.2 1495.1 648.9 1497.1 651.5C1499.1 654.1 1501.1 656.8 1503.2 659.5C1505.2 662.1 1507.2 664.8 1509.2 667.4C1511.2 670.1 1513.2 672.8 1515.2 675.4C1517.2 678.1 1519.2 680.8 1521.2 683.5C1523.2 686.1 1525.1 688.8 1527.1 691.5C1529.1 694.2 1531.1 696.9 1533.1 699.5C1535.0 702.2 1537.0 704.9 1539.0 707.6C1541.0 710.3 1542.9 713.0 1544.9 715.7C1546.9 718.4 1548.8 721.0 1550.8 723.7C1552.8 726.4 1554.7 729.1 1556.7 731.8C1558.7 734.5 1560.6 737.2 1562.6 739.9C1564.6 742.6 1566.6 745.3 1568.5 748.0C1570.5 750.6 1572.5 753.3 1574.4 756.0C1576.4 758.7 1578.4 761.4 1580.4 764.1C1582.4 766.8 1584.3 769.4 1586.3 772.1C1588.3 774.8 1590.3 777.5 1592.3 780.1C1594.3 782.8 1596.3 785.5 1598.3 788.2C1600.3 790.8 1602.3 793.5 1604.3 796.1C1606.3 798.8 1608.3 801.5 1610.3 804.1C1612.3 806.8 1614.4 809.4 1616.4 812.1C1618.4 814.7 1620.4 817.4 1622.5 820.0C1624.5 822.7 1626.5 825.3 1628.6 827.9C1630.6 830.6 1632.7 833.2 1634.7 835.8C1636.8 838.5 1638.8 841.1 1640.9 843.7C1642.9 846.3 1645.0 849.0 1647.1 851.6C1649.1 854.2 1651.2 856.8 1653.3 859.4C1655.4 862.0 1657.4 864.6 1659.5 867.2C1661.6 869.8 1663.7 872.4 1665.8 875.0C1667.9 877.6 1670.0 880.2 1672.1 882.8C1674.2 885.4 1676.3 887.9 1678.5 890.5C1680.6 893.1 1682.7 895.7 1684.8 898.2C1686.9 900.8 1689.1 903.4 1691.2 905.9C1693.3 908.5 1695.5 911.0 1697.6 913.6C1699.8 916.1 1701.9 918.7 1704.1 921.2C1706.3 923.8 1708.4 926.3 1710.6 928.8C1712.8 931.4 1714.9 933.9 1717.1 936.4C1719.3 938.9 1721.5 941.4 1723.7 944.0C1725.9 946.5 1728.1 949.0 1730.3 951.5C1732.5 954.0 1734.7 956.5 1736.9 959.0C1739.1 961.5 1741.3 964.0 1743.5 966.4C1745.8 968.9 1748.0 971.4 1750.2 973.9C1752.5 976.3 1754.7 978.8 1757.0 981.3C1759.2 983.7 1761.5 986.2 1763.7 988.6C1766.0 991.1 1768.2 993.5 1770.5 996.0C1772.8 998.4 1775.1 1000.9 1777.3 1003.3C1779.6 1005.7 1781.9 1008.1 1784.2 1010.6C1786.5 1013.0 1788.8 1015.4 1791.1 1017.8C1793.4 1020.2 1795.7 1022.6 1798.1 1025.0C1800.4 1027.4 1802.7 1029.8 1805.0 1032.2C1807.4 1034.5 1809.7 1036.9 1812.1 1039.3C1814.4 1041.7 1816.8 1044.0 1819.1 1046.4C1821.5 1048.7 1823.8 1051.1 1826.2 1053.4C1828.6 1055.8 1831.0 1058.1 1833.3 1060.4C1835.7 1062.8 1838.1 1065.1 1840.5 1067.4C1842.9 1069.7 1845.3 1072.0 1847.7 1074.3C1850.1 1076.6 1852.6 1078.9 1855.0 1081.2C1857.4 1083.5 1859.8 1085.8 1862.3 1088.1C1864.7 1090.4 1867.1 1092.6 1869.6 1094.9C1872.0 1097.2 1874.5 1099.4 1877.0 1101.7C1879.4 1103.9 1881.9 1106.1 1884.4 1108.4C1886.8 1110.6 1889.3 1112.8 1891.8 1115.1C1894.3 1117.3 1896.8 1119.5 1899.3 1121.7C1901.8 1123.9 1904.3 1126.1 1906.8 1128.3C1909.4 1130.4 1911.9 1132.6 1914.4 1134.8C1916.9 1137.0 1919.5 1139.1 1922.0 1141.3C1924.6 1143.4 1927.1 1145.6 1929.7 1147.7C1932.2 1149.9 1934.8 1152.0 1937.4 1154.1C1940.0 1156.2 1942.5 1158.3 1945.1 1160.4C1947.7 1162.5 1950.3 1164.6 1952.9 1166.7C1955.5 1168.8 1958.1 1170.9 1960.7 1173.0C1963.3 1175.0 1966.0 1177.1 1968.6 1179.1C1971.2 1181.2 1973.9 1183.2 1976.5 1185.3C1979.2 1187.3 1981.8 1189.3 1984.5 1191.3C1987.1 1193.3 1989.8 1195.3 1992.5 1197.3C1995.1 1199.3 1997.8 1201.3 2000.5 1203.3C2003.2 1205.3 2005.9 1207.2 2008.6 1209.2C2011.3 1211.1 2014.0 1213.1 2016.7 1215.0C2019.4 1216.9 2022.1 1218.9 2024.9 1220.8C2027.6 1222.7 2030.3 1224.6 2033.1 1226.5C2035.8 1228.4 2038.6 1230.3 2041.3 1232.1C2044.1 1234.0 2046.9 1235.9 2049.6 1237.7C2052.4 1239.6 2055.2 1241.4 2058.0 1243.2C2060.8 1245.1 2063.6 1246.9 2066.4 1248.7C2069.2 1250.5 2072.0 1252.3 2074.8 1254.1C2077.6 1255.9 2080.4 1257.6 2083.3 1259.4C2086.1 1261.2 2088.9 1262.9 2091.8 1264.7C2094.6 1266.4 2097.5 1268.1 2100.3 1269.8C2103.2 1271.5 2106.1 1273.3 2108.9 1274.9C2111.8 1276.6 2114.7 1278.3 2117.6 1280.0C2120.5 1281.6 2123.3 1283.3 2126.2 1284.9C2129.1 1286.6 2132.1 1288.2 2135.0 1289.8C2137.9 1291.5 2140.8 1293.1 2143.7 1294.6C2146.7 1296.2 2149.6 1297.8 2152.5 1299.4C2155.5 1301.0 2158.4 1302.5 2161.4 1304.0C2164.4 1305.6 2167.3 1307.1 2170.3 1308.6C2173.3 1310.1 2176.2 1311.6 2179.2 1313.1C2182.2 1314.6 2185.2 1316.1 2188.2 1317.6C2191.2 1319.0 2194.2 1320.5 2197.2 1321.9C2200.2 1323.3 2203.2 1324.7 2206.3 1326.2C2209.3 1327.6 2212.3 1329.0 2215.3 1330.3C2218.4 1331.7 2221.4 1333.1 2224.5 1334.4C2227.5 1335.8 2230.6 1337.1 2233.6 1338.4C2236.7 1339.7 2239.8 1341.1 2242.8 1342.3C2245.9 1343.6 2250.5 1345.5 2252.0 1346.2" stroke="#8c8c00" stroke-width="12" stroke-dasharray="48 62"/>
<path d="M269.0 1476.0C270.5 1475.4 275.1 1473.7 278.3 1472.6C281.4 1471.5 284.5 1470.4 287.7 1469.3C290.9 1468.2 294.0 1467.1 297.2 1466.1C300.4 1465.0 303.5 1464.0 306.7 1462.9C309.9 1461.9 313.0 1460.8 316.2 1459.8C319.4 1458.8 322.6 1457.7 325.7 1456.7C328.9 1455.7 332.1 1454.7 335.3 1453.6C338.5 1452.6 341.6 1451.6 344.8 1450.5C348.0 1449.5 351.2 1448.5 354.3 1447.4C357.5 1446.3 360.7 1445.3 363.8 1444.2C367.0 1443.1 370.1 1442.0 373.3 1440.9C376.4 1439.8 379.6 1438.7 382.7 1437.6C385.9 1436.4 389.0 1435.3 392.1 1434.1C395.2 1432.9 398.3 1431.7 401.5 1430.5C404.6 1429.3 407.7 1428.0 410.7 1426.7C413.8 1425.5 416.9 1424.2 420.0 1422.9C423.1 1421.6 426.1 1420.3 429.2 1418.9C432.3 1417.6 435.3 1416.3 438.4 1414.9C441.4 1413.5 444.5 1412.2 447.5 1410.8C450.5 1409.4 453.6 1408.0 456.6 1406.6C459.6 1405.2 462.6 1403.8 465.7 1402.3C468.7 1400.9 471.7 1399.5 474.7 1398.0C477.7 1396.6 480.7 1395.1 483.7 1393.7C486.7 1392.2 489.7 1390.7 492.7 1389.3C495.7 1387.8 498.7 1386.3 501.7 1384.9C504.7 1383.4 507.7 1381.9 510.7 1380.4C513.7 1379.0 516.7 1377.5 519.7 1376.0C522.7 1374.5 525.7 1373.1 528.7 1371.6C531.7 1370.1 534.7 1368.7 537.7 1367.2C540.7 1365.7 543.7 1364.2 546.7 1362.8C549.7 1361.3 552.7 1359.8 555.7 1358.4C558.7 1356.9 561.7 1355.4 564.7 1354.0C567.7 1352.5 570.7 1351.0 573.7 1349.5C576.6 1348.1 579.6 1346.6 582.6 1345.1C585.6 1343.6 588.6 1342.1 591.6 1340.6C594.6 1339.1 597.6 1337.6 600.5 1336.1C603.5 1334.6 606.5 1333.1 609.5 1331.5C612.4 1330.0 615.4 1328.5 618.3 1326.9C621.3 1325.4 624.3 1323.8 627.2 1322.2C630.1 1320.7 633.1 1319.1 636.0 1317.5C639.0 1315.9 641.9 1314.3 644.8 1312.7C647.7 1311.1 650.6 1309.4 653.5 1307.8C656.4 1306.1 659.3 1304.5 662.2 1302.8C665.1 1301.1 668.0 1299.4 670.9 1297.7C673.7 1296.0 676.6 1294.3 679.4 1292.5C682.3 1290.8 685.1 1289.0 688.0 1287.3C690.8 1285.5 693.6 1283.7 696.5 1282.0C699.3 1280.2 702.1 1278.4 705.0 1276.7C707.8 1274.9 710.6 1273.1 713.4 1271.3C716.3 1269.5 719.1 1267.8 721.9 1266.0C724.8 1264.2 727.6 1262.5 730.4 1260.7C733.3 1258.9 736.1 1257.2 739.0 1255.5C741.8 1253.7 744.7 1252.0 747.5 1250.3C750.4 1248.5 753.3 1246.8 756.1 1245.2C759.0 1243.5 761.9 1241.8 764.8 1240.2C767.7 1238.5 770.6 1236.9 773.6 1235.3C776.5 1233.7 779.4 1232.1 782.3 1230.5C785.3 1228.9 788.2 1227.3 791.2 1225.7C794.1 1224.1 797.0 1222.5 800.0 1220.9C802.9 1219.3 805.8 1217.7 808.8 1216.1C811.7 1214.5 814.6 1212.9 817.5 1211.2C820.4 1209.6 823.3 1207.9 826.2 1206.3C829.1 1204.6 831.9 1202.9 834.8 1201.1C837.6 1199.4 840.5 1197.6 843.3 1195.8C846.1 1194.0 848.9 1192.1 851.6 1190.2C854.4 1188.3 857.1 1186.4 859.8 1184.4C862.5 1182.4 865.1 1180.4 867.7 1178.3C870.3 1176.3 872.9 1174.1 875.5 1172.0C878.0 1169.8 880.5 1167.6 883.0 1165.4C885.5 1163.2 888.0 1161.0 890.5 1158.8C893.0 1156.5 895.5 1154.3 898.0 1152.1C900.5 1149.9 903.0 1147.7 905.6 1145.5C908.1 1143.4 910.7 1141.2 913.3 1139.2C915.9 1137.1 918.5 1135.0 921.2 1133.0C923.9 1131.0 926.6 1129.1 929.3 1127.1C932.0 1125.2 934.8 1123.3 937.6 1121.5C940.4 1119.6 943.2 1117.8 946.0 1116.0C948.8 1114.2 951.6 1112.4 954.4 1110.5C957.1 1108.7 959.9 1106.9 962.7 1105.0C965.4 1103.1 968.2 1101.1 970.8 1099.1C973.5 1097.1 976.2 1095.1 978.7 1092.9C981.3 1090.8 983.8 1088.6 986.2 1086.3C988.6 1084.0 990.9 1081.6 993.2 1079.1C995.4 1076.6 997.6 1074.1 999.7 1071.5C1001.9 1069.0 1003.9 1066.3 1005.9 1063.6C1007.9 1061.0 1009.8 1058.3 1011.7 1055.5C1013.6 1052.8 1015.5 1050.0 1017.3 1047.1C1019.1 1044.3 1020.8 1041.5 1022.6 1038.6C1024.3 1035.8 1026.0 1032.9 1027.6 1030.0C1029.3 1027.1 1030.9 1024.2 1032.5 1021.3C1034.1 1018.3 1035.7 1015.4 1037.2 1012.4C1038.8 1009.5 1040.3 1006.5 1041.8 1003.5C1043.2 1000.5 1044.7 997.5 1046.1 994.5C1047.6 991.5 1049.0 988.4 1050.4 985.4C1051.8 982.4 1053.1 979.3 1054.5 976.3C1055.8 973.2 1057.2 970.2 1058.5 967.1C1059.8 964.0 1061.1 960.9 1062.4 957.9C1063.7 954.8 1065.0 951.7 1066.2 948.6C1067.5 945.5 1068.7 942.4 1070.0 939.3C1071.2 936.2 1072.4 933.1 1073.7 930.0C1074.9 926.9 1076.1 923.8 1077.3 920.7C1078.6 917.6 1079.8 914.5 1081.0 911.4C1082.2 908.2 1083.4 905.1 1084.6 902.0C1085.8 898.9 1087.1 895.8 1088.3 892.7C1089.5 889.6 1090.7 886.5 1091.9 883.4C1093.2 880.3 1094.4 877.2 1095.7 874.1C1096.9 871.0 1098.2 867.9 1099.4 864.8C1100.7 861.7 1102.0 858.6 1103.3 855.5C1104.5 852.5 1105.9 849.4 1107.2 846.3C1108.5 843.2 1109.8 840.2 1111.2 837.1C1112.5 834.1 1113.9 831.0 1115.3 828.0C1116.6 824.9 1118.0 821.9 1119.4 818.9C1120.8 815.8 1122.3 812.8 1123.7 809.8C1125.2 806.8 1126.6 803.8 1128.1 800.8C1129.6 797.8 1131.1 794.8 1132.6 791.9C1134.1 788.9 1135.6 785.9 1137.2 783.0C1138.7 780.0 1140.3 777.0 1141.9 774.1C1143.5 771.2 1145.1 768.3 1146.7 765.3C1148.4 762.4 1150.0 759.5 1151.7 756.6C1153.4 753.8 1155.1 750.9 1156.8 748.0C1158.5 745.2 1160.3 742.3 1162.1 739.5C1163.9 736.7 1165.7 733.9 1167.6 731.1C1169.4 728.4 1171.4 725.6 1173.3 723.0C1175.3 720.3 1177.4 717.6 1179.4 715.0C1181.5 712.4 1183.7 709.9 1185.9 707.4C1188.1 704.9 1190.4 702.4 1192.8 700.0C1195.1 697.6 1197.5 695.3 1199.9 693.0C1202.3 690.7 1204.7 688.4 1207.2 686.1C1209.6 683.9 1212.1 681.7 1214.6 679.4C1217.1 677.2 1219.6 675.0 1222.0 672.7C1224.5 670.5 1227.0 668.2 1229.4 666.0C1231.9 663.7 1234.3 661.4 1236.7 659.1C1239.2 656.8 1241.6 654.5 1244.0 652.2C1246.5 650.0 1248.9 647.7 1251.4 645.5C1253.9 643.3 1256.5 641.1 1259.1 639.0C1261.7 636.9 1264.3 634.8 1267.0 632.9C1269.7 631.0 1272.5 629.1 1275.4 627.4C1278.3 625.7 1281.2 624.1 1284.2 622.7C1287.2 621.3 1290.3 620.0 1293.5 618.9C1296.6 617.7 1299.8 616.8 1303.1 616.0C1306.3 615.2 1309.6 614.6 1312.9 614.2C1316.2 613.7 1319.6 613.5 1322.9 613.5C1326.2 613.5 1329.6 613.6 1332.9 614.1C1336.2 614.5 1339.5 615.1 1342.7 616.0C1345.9 616.8 1349.1 617.9 1352.2 619.1C1355.4 620.3 1358.4 621.6 1361.4 623.1C1364.4 624.5 1367.4 626.1 1370.3 627.8C1373.2 629.4 1376.0 631.2 1378.8 633.0C1381.6 634.8 1384.4 636.7 1387.1 638.6C1389.8 640.6 1392.5 642.5 1395.2 644.6C1397.8 646.6 1400.4 648.7 1403.0 650.8C1405.6 652.9 1408.2 655.0 1410.7 657.2C1413.2 659.4 1415.7 661.6 1418.2 663.8C1420.7 666.1 1423.1 668.3 1425.6 670.6C1428.0 672.9 1430.4 675.2 1432.8 677.6C1435.2 679.9 1437.5 682.3 1439.9 684.6C1442.2 687.0 1444.6 689.4 1446.9 691.8C1449.2 694.2 1451.5 696.6 1453.8 699.1C1456.1 701.5 1458.4 703.9 1460.7 706.4C1462.9 708.8 1465.2 711.3 1467.4 713.7C1469.7 716.2 1471.9 718.7 1474.2 721.1C1476.4 723.6 1478.7 726.1 1480.9 728.6C1483.1 731.1 1485.4 733.5 1487.6 736.0C1489.8 738.5 1492.0 741.0 1494.3 743.5C1496.5 746.0 1498.7 748.5 1500.9 751.0C1503.1 753.5 1505.3 756.0 1507.6 758.5C1509.8 761.0 1512.0 763.5 1514.2 766.0C1516.4 768.5 1518.6 771.0 1520.8 773.6C1523.0 776.1 1525.2 778.6 1527.4 781.1C1529.5 783.6 1531.7 786.1 1533.9 788.7C1536.1 791.2 1538.3 793.7 1540.5 796.2C1542.7 798.8 1544.8 801.3 1547.0 803.8C1549.2 806.3 1551.4 808.9 1553.6 811.4C1555.7 813.9 1557.9 816.5 1560.1 819.0C1562.3 821.5 1564.4 824.1 1566.6 826.6C1568.8 829.2 1570.9 831.7 1573.1 834.2C1575.3 836.8 1577.5 839.3 1579.6 841.8C1581.8 844.4 1584.0 846.9 1586.1 849.5C1588.3 852.0 1590.5 854.5 1592.6 857.1C1594.8 859.6 1597.0 862.2 1599.1 864.7C1601.3 867.2 1603.5 869.8 1605.6 872.3C1607.8 874.9 1610.0 877.4 1612.1 880.0C1614.3 882.5 1616.5 885.0 1618.6 887.6C1620.8 890.1 1623.0 892.6 1625.1 895.2C1627.3 897.7 1629.5 900.3 1631.7 902.8C1633.8 905.3 1636.0 907.9 1638.2 910.4C1640.4 912.9 1642.5 915.5 1644.7 918.0C1646.9 920.5 1649.1 923.0 1651.3 925.6C1653.5 928.1 1655.6 930.6 1657.8 933.1C1660.0 935.7 1662.2 938.2 1664.4 940.7C1666.6 943.2 1668.8 945.7 1671.0 948.2C1673.2 950.7 1675.4 953.2 1677.6 955.7C1679.8 958.2 1682.0 960.8 1684.3 963.2C1686.5 965.7 1688.7 968.2 1690.9 970.7C1693.1 973.2 1695.4 975.7 1697.6 978.2C1699.8 980.7 1702.1 983.2 1704.3 985.6C1706.6 988.1 1708.8 990.6 1711.0 993.0C1713.3 995.5 1715.6 998.0 1717.8 1000.4C1720.1 1002.9 1722.3 1005.3 1724.6 1007.8C1726.9 1010.2 1729.2 1012.7 1731.4 1015.1C1733.7 1017.6 1736.0 1020.0 1738.3 1022.4C1740.6 1024.8 1742.9 1027.3 1745.2 1029.7C1747.5 1032.1 1749.8 1034.5 1752.1 1036.9C1754.4 1039.3 1756.7 1041.7 1759.1 1044.1C1761.4 1046.5 1763.7 1048.9 1766.1 1051.3C1768.4 1053.7 1770.7 1056.1 1773.1 1058.4C1775.4 1060.8 1777.8 1063.2 1780.2 1065.5C1782.5 1067.9 1784.9 1070.3 1787.3 1072.6C1789.6 1074.9 1792.0 1077.3 1794.4 1079.6C1796.8 1082.0 1799.2 1084.3 1801.6 1086.6C1804.0 1088.9 1806.4 1091.2 1808.8 1093.6C1811.2 1095.9 1813.6 1098.2 1816.1 1100.5C1818.5 1102.8 1820.9 1105.0 1823.4 1107.3C1825.8 1109.6 1828.2 1111.9 1830.7 1114.1C1833.2 1116.4 1835.6 1118.7 1838.1 1120.9C1840.6 1123.2 1843.0 1125.4 1845.5 1127.6C1848.0 1129.9 1850.5 1132.1 1853.0 1134.3C1855.5 1136.5 1858.0 1138.7 1860.5 1140.9C1863.0 1143.1 1865.5 1145.3 1868.0 1147.5C1870.6 1149.7 1873.1 1151.9 1875.6 1154.1C1878.2 1156.2 1880.7 1158.4 1883.3 1160.5C1885.8 1162.7 1888.4 1164.8 1891.0 1167.0C1893.5 1169.1 1896.1 1171.2 1898.7 1173.3C1901.3 1175.4 1903.9 1177.5 1906.5 1179.6C1909.1 1181.7 1911.7 1183.8 1914.3 1185.9C1916.9 1188.0 1919.5 1190.0 1922.2 1192.1C1924.8 1194.1 1927.5 1196.2 1930.1 1198.2C1932.7 1200.2 1935.4 1202.3 1938.1 1204.3C1940.7 1206.3 1943.4 1208.3 1946.1 1210.3C1948.8 1212.3 1951.5 1214.2 1954.2 1216.2C1956.9 1218.2 1959.6 1220.1 1962.3 1222.1C1965.0 1224.0 1967.7 1226.0 1970.4 1227.9C1973.2 1229.8 1975.9 1231.7 1978.6 1233.6C1981.4 1235.5 1984.1 1237.4 1986.9 1239.3C1989.7 1241.2 1992.4 1243.0 1995.2 1244.9C1998.0 1246.7 2000.8 1248.6 2003.6 1250.4C2006.4 1252.2 2009.2 1254.0 2012.0 1255.8C2014.8 1257.7 2017.6 1259.4 2020.4 1261.2C2023.3 1263.0 2026.1 1264.8 2028.9 1266.5C2031.8 1268.3 2034.6 1270.0 2037.5 1271.8C2040.3 1273.5 2043.2 1275.2 2046.1 1276.9C2048.9 1278.6 2051.8 1280.3 2054.7 1282.0C2057.6 1283.7 2060.4 1285.4 2063.3 1287.1C2066.2 1288.7 2069.1 1290.4 2072.0 1292.1C2074.9 1293.7 2077.8 1295.3 2080.8 1297.0C2083.7 1298.6 2086.6 1300.2 2089.5 1301.8C2092.5 1303.4 2095.4 1305.0 2098.3 1306.6C2101.3 1308.2 2104.2 1309.8 2107.1 1311.3C2110.1 1312.9 2113.1 1314.5 2116.0 1316.0C2119.0 1317.6 2121.9 1319.1 2124.9 1320.6C2127.9 1322.2 2130.8 1323.7 2133.8 1325.2C2136.8 1326.7 2139.8 1328.2 2142.8 1329.7C2145.7 1331.2 2148.7 1332.7 2151.7 1334.2C2154.7 1335.6 2157.7 1337.1 2160.7 1338.6C2163.7 1340.0 2166.7 1341.5 2169.7 1342.9C2172.8 1344.4 2175.8 1345.8 2178.8 1347.2C2181.8 1348.7 2184.8 1350.1 2187.9 1351.5C2190.9 1352.9 2193.9 1354.3 2196.9 1355.7C2200.0 1357.1 2203.0 1358.5 2206.1 1359.9C2209.1 1361.2 2212.1 1362.6 2215.2 1364.0C2218.2 1365.4 2221.3 1366.7 2224.3 1368.1C2227.4 1369.4 2230.4 1370.8 2233.5 1372.1C2236.6 1373.5 2239.6 1374.8 2242.7 1376.1C2245.7 1377.4 2250.4 1379.4 2251.9 1380.1" stroke="#fb6400" stroke-width="12" stroke-dasharray="8 57"/>
</g>
<g stroke="#000" stroke-width="7" fill="none" stroke-linecap="butt">
<rect x="268.5" y="52" width="1984.0" height="1598.5"/>
<line x1="268.5" y1="1650.5" x2="268.5" y2="1683"/>
<line x1="551.9" y1="1650.5" x2="551.9" y2="1683"/>
<line x1="835.4" y1="1650.5" x2="835.4" y2="1683"/>
<line x1="1118.8" y1="1650.5" x2="1118.8" y2="1683"/>
<line x1="1402.2" y1="1650.5" x2="1402.2" y2="1683"/>
<line x1="1685.6" y1="1650.5" x2="1685.6" y2="1683"/>
<line x1="1969.1" y1="1650.5" x2="1969.1" y2="1683"/>
<line x1="2252.5" y1="1650.5" x2="2252.5" y2="1683"/>
<line x1="237" y1="1650.5" x2="268.5" y2="1650.5"/>
<line x1="237" y1="1330.8" x2="268.5" y2="1330.8"/>
<line x1="237" y1="1011.1" x2="268.5" y2="1011.1"/>
<line x1="237" y1="691.4" x2="268.5" y2="691.4"/>
<line x1="237" y1="371.7" x2="268.5" y2="371.7"/>
<line x1="237" y1="52.0" x2="268.5" y2="52.0"/>
</g>
<g font-family="Liberation Serif, Times New Roman, serif" font-size="68" fill="#000">
<text transform="translate(268.5 1756.5) scale(1 1.035)" text-anchor="middle">330</text>
<text transform="translate(551.9 1756.5) scale(1 1.035)" text-anchor="middle">340</text>
<text transform="translate(835.4 1756.5) scale(1 1.035)" text-anchor="middle">350</text>
<text transform="translate(1118.8 1756.5) scale(1 1.035)" text-anchor="middle">360</text>
<text transform="translate(1402.2 1756.5) scale(1 1.035)" text-anchor="middle">370</text>
<text transform="translate(1685.6 1756.5) scale(1 1.035)" text-anchor="middle">380</text>
<text transform="translate(1969.1 1756.5) scale(1 1.035)" text-anchor="middle">390</text>
<text transform="translate(2252.5 1756.5) scale(1 1.035)" text-anchor="middle">400</text>
<text transform="translate(215 1670.5) scale(1 1.035)" text-anchor="end">0</text>
<text transform="translate(215 1350.8) scale(1 1.035)" text-anchor="end">30</text>
<text transform="translate(215 1031.1) scale(1 1.035)" text-anchor="end">60</text>
<text transform="translate(215 711.4) scale(1 1.035)" text-anchor="end">90</text>
<text transform="translate(215 391.7) scale(1 1.035)" text-anchor="end">120</text>
<text transform="translate(215 72.0) scale(1 1.035)" text-anchor="end">150</text>
</g>
<g font-family="Liberation Serif, Times New Roman, serif" font-size="60" font-weight="bold" fill="#000">
<text transform="translate(1260 1891) scale(1 1.053)" text-anchor="middle">Crank angle (deg.)</text>
<text transform="translate(66 810.5) rotate(-90) scale(1 1.053)" text-anchor="middle">Cylinder pressure (bar)</text>
</g>
<g fill="none" stroke-linecap="round" shape-rendering="crispEdges">
<path d="M273.5 96.5H408.5" stroke="#505050" stroke-width="9"/>
<path d="M797.3 96.5H932.3" stroke="#ee3f3f" stroke-width="9" stroke-dasharray="33 44"/>
<path d="M1278.4 96.5H1413.4" stroke="#1c6cde" stroke-width="9" stroke-dasharray="6 40"/>
<path d="M1760.5 96.5H1895.5" stroke="#36ac6a" stroke-width="9" stroke-dasharray="39 26 5 26"/>
<path d="M273.5 171.5H408.5" stroke="#ad78de" stroke-width="9" stroke-dasharray="28 26 5 26 5 26"/>
<path d="M846.6 171.5H981.6" stroke="#c99800" stroke-width="9" stroke-dasharray="13 21.5"/>
<path d="M1459.4 171.5H1594.4" stroke="#00c8cc" stroke-width="9" stroke-dasharray="1 14.4"/>
<path d="M274 247H409" stroke="#7a4c4c" stroke-width="10" stroke-dasharray="22 19 0.5 19"/>
<path d="M846 247H983" stroke="#8c8c00" stroke-width="12" stroke-dasharray="48 62"/>
<path d="M1145 247H1282" stroke="#fb6400" stroke-width="12" stroke-dasharray="8 57"/>
</g>
<g font-family="Liberation Serif, Times New Roman, serif" font-size="60" fill="#000" style="white-space:pre">
<text transform="translate(426.0 117) scale(1 1.035)" xml:space="preserve">TPOE5CDF95</text>
<text transform="translate(950.0 117) scale(1 1.035)" xml:space="preserve">TPOE10D90</text>
<text transform="translate(1432.6 117) scale(1 1.035)" xml:space="preserve">TPOE15D85</text>
<text transform="translate(1912.7 117) scale(1 1.035)" xml:space="preserve">TPOE20D80</text>
<text transform="translate(426.0 192) scale(1 1.035)" xml:space="preserve">TPOE5D90 +  <tspan>A</tspan></text>
<text transform="translate(999.5 192) scale(1 1.035)" xml:space="preserve">TPOE5CDF85+ B</text>
<text transform="translate(1613.6 192) scale(1 1.035)" xml:space="preserve">TPOE10D85+ C</text>
<text transform="translate(426.0 267) scale(1 1.035)" xml:space="preserve">TPOE10D80+ D</text>
<text transform="translate(999.5 267) scale(1 1.035)" xml:space="preserve">CDF</text>
<text transform="translate(1298.6 267) scale(1 1.035)" xml:space="preserve">TPOE</text>
</g>
</svg>
</body></html>
